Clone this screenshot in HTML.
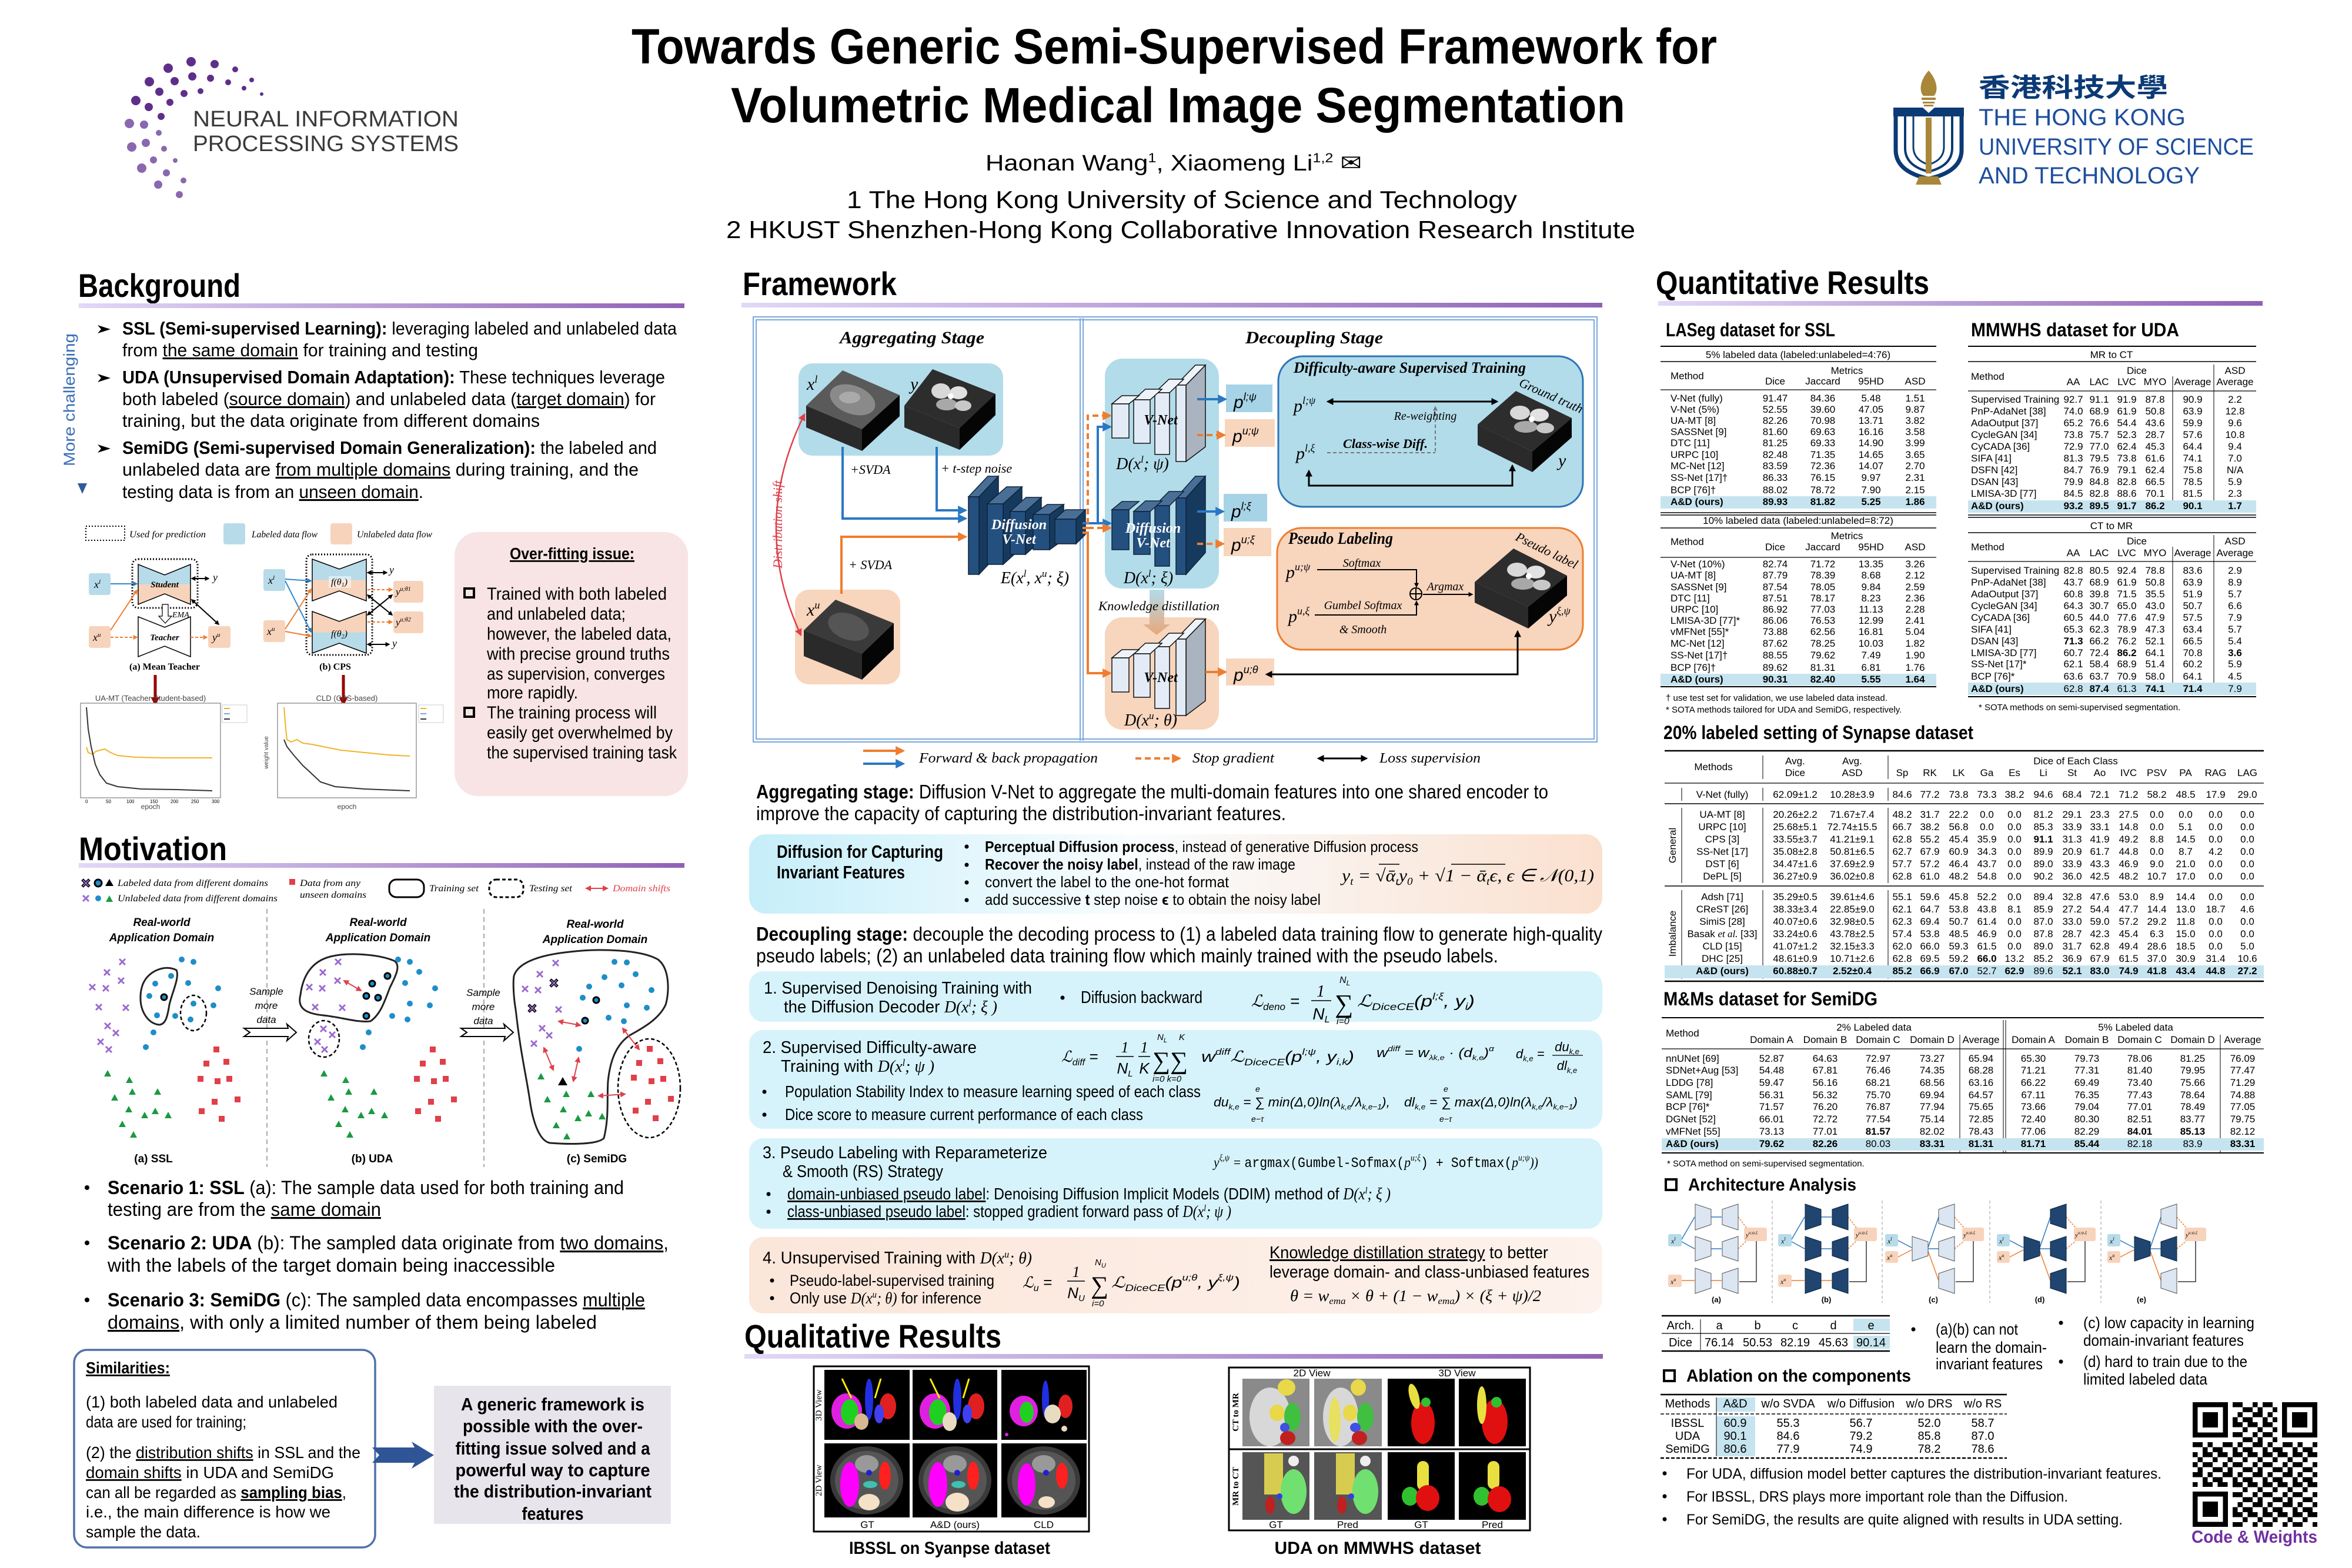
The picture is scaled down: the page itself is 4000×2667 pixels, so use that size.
<!DOCTYPE html>
<html><head><meta charset="utf-8"><style>
html,body{margin:0;padding:0;background:#fff;}
body{width:4000px;height:2667px;overflow:hidden;}
svg{display:block;}
text{font-family:"Liberation Sans",sans-serif;fill:#000;}
.sf{font-family:"Liberation Serif",serif;}
.it{font-family:"Liberation Serif",serif;font-style:italic;}
.b{font-weight:bold;}
</style></head><body>
<svg xmlns="http://www.w3.org/2000/svg" width="4000" height="2667" viewBox="0 0 4000 2667">
<defs>
<linearGradient id="ul" x1="0" x2="1" y1="0" y2="0"><stop offset="0" stop-color="#e2d8f7"/><stop offset="1" stop-color="#8f62b5"/></linearGradient>
<linearGradient id="mc" x1="0" x2="0" y1="0" y2="1"><stop offset="0" stop-color="#c9d9f0"/><stop offset="1" stop-color="#2f5b99"/></linearGradient>
<linearGradient id="dif" x1="0" x2="1" y1="0" y2="0"><stop offset="0" stop-color="#c6eef9"/><stop offset="0.45" stop-color="#f9fdff"/><stop offset="1" stop-color="#fbe0cf"/></linearGradient>
<linearGradient id="b4" x1="0" x2="1" y1="0" y2="0"><stop offset="0" stop-color="#fbe6da"/><stop offset="1" stop-color="#fdf2ec"/></linearGradient>
<linearGradient id="kd" x1="0" x2="0" y1="0" y2="1"><stop offset="0" stop-color="#b3dcea"/><stop offset="1" stop-color="#e9a77a"/></linearGradient>
<linearGradient id="hgBP" x1="0" x2="0" y1="0" y2="1"><stop offset="0.5" stop-color="#b7dbe9"/><stop offset="0.5" stop-color="#f8d3bb"/></linearGradient>
<linearGradient id="hgPB" x1="0" x2="0" y1="0" y2="1"><stop offset="0.5" stop-color="#f8d3bb"/><stop offset="0.5" stop-color="#b7dbe9"/></linearGradient>
<marker id="mB" viewBox="0 0 10 10" refX="8" refY="5" markerWidth="4" markerHeight="4" orient="auto-start-reverse"><path d="M0,0L10,5L0,10z" fill="#2a78c2"/></marker>
<marker id="mO" viewBox="0 0 10 10" refX="8" refY="5" markerWidth="4" markerHeight="4" orient="auto-start-reverse"><path d="M0,0L10,5L0,10z" fill="#ee7d2f"/></marker>
<marker id="mK" viewBox="0 0 10 10" refX="8" refY="5" markerWidth="4" markerHeight="4" orient="auto-start-reverse"><path d="M0,0L10,5L0,10z" fill="#000"/></marker>
<marker id="mR" viewBox="0 0 10 10" refX="8" refY="5" markerWidth="5" markerHeight="5" orient="auto-start-reverse"><path d="M0,0L10,5L0,10z" fill="#e0404a"/></marker>
<marker id="mD" viewBox="0 0 10 10" refX="8" refY="5" markerWidth="3" markerHeight="3" orient="auto-start-reverse"><path d="M0,0L10,5L0,10z" fill="#9a0000"/></marker>
<marker id="mG" viewBox="0 0 10 10" refX="8" refY="5" markerWidth="4" markerHeight="4" orient="auto-start-reverse"><path d="M0,0L10,5L0,10z" fill="#777"/></marker>
<g id="px"><path d="M-5,-5L5,5M-5,5L5,-5" stroke="#9b6ad0" stroke-width="3"/></g>
<g id="kx"><path d="M-6,-6L6,6M-6,6L6,-6" stroke="#000" stroke-width="5"/><path d="M-5,-5L5,5M-5,5L5,-5" stroke="#9b6ad0" stroke-width="2"/></g>
<circle id="bd" r="5" fill="#1e8ec8"/>
<circle id="bk" r="5" fill="#1e8ec8" stroke="#000" stroke-width="3"/>
<polygon id="gt" points="0,-6 6,5 -6,5" fill="#1a9a40"/>
<polygon id="kt" points="0,-8 8,6 -8,6" fill="#000"/>
<rect id="rs" x="-5" y="-5" width="10" height="10" fill="#e0404a"/>
<pattern id="qr" x="3729" y="2385" width="51" height="51" patternUnits="userSpaceOnUse">
<rect width="51" height="51" fill="#fff"/>
<g fill="#000"><rect x="0" y="0" width="8.5" height="8.5"/><rect x="17" y="0" width="17" height="8.5"/><rect x="8.5" y="8.5" width="8.5" height="8.5"/><rect x="34" y="8.5" width="17" height="8.5"/><rect x="0" y="17" width="17" height="8.5"/><rect x="25.5" y="17" width="8.5" height="8.5"/><rect x="17" y="25.5" width="8.5" height="8.5"/><rect x="34" y="25.5" width="17" height="8.5"/><rect x="0" y="34" width="8.5" height="8.5"/><rect x="17" y="34" width="17" height="8.5"/><rect x="42.5" y="34" width="8.5" height="8.5"/><rect x="8.5" y="42.5" width="8.5" height="8.5"/><rect x="34" y="42.5" width="8.5" height="8.5"/></g>
</pattern>
</defs>

<!-- ================= HEADER ================= -->
<text x="1074" y="108" font-size="84" class="b" textLength="1846" lengthAdjust="spacingAndGlyphs">Towards Generic Semi-Supervised Framework for</text>
<text x="1243" y="208" font-size="84" class="b" textLength="1521" lengthAdjust="spacingAndGlyphs">Volumetric Medical Image Segmentation</text>
<text x="1676" y="290" font-size="38" textLength="640" lengthAdjust="spacingAndGlyphs">Haonan Wang<tspan font-size="22" dy="-14">1</tspan><tspan dy="14">, Xiaomeng Li</tspan><tspan font-size="22" dy="-14">1,2</tspan><tspan dy="14"> ✉</tspan></text>
<text x="1440" y="354" font-size="42" textLength="1140" lengthAdjust="spacingAndGlyphs">1 The Hong Kong University of Science and Technology</text>
<text x="1235" y="405" font-size="42" textLength="1546" lengthAdjust="spacingAndGlyphs">2 HKUST Shenzhen-Hong Kong Collaborative Innovation Research Institute</text>

<!-- NeurIPS logo -->
<g fill="#5e2f8a">
<circle cx="365" cy="109" r="7"/><circle cx="325" cy="105" r="8"/><circle cx="286" cy="116" r="8"/><circle cx="254" cy="139" r="8"/><circle cx="231" cy="171" r="8"/>
<circle cx="358" cy="133" r="6"/><circle cx="327" cy="130" r="7"/><circle cx="297" cy="138" r="7"/><circle cx="271" cy="156" r="7"/><circle cx="253" cy="182" r="7"/>
<circle cx="341" cy="155" r="5"/><circle cx="313" cy="159" r="6"/><circle cx="289" cy="174" r="6"/><circle cx="274" cy="198" r="6"/>
<circle cx="400" cy="118" r="5"/><circle cx="428" cy="136" r="4"/><circle cx="445" cy="160" r="3"/><circle cx="415" cy="150" r="4"/><circle cx="388" cy="140" r="5"/>
</g>
<g fill="#8a68b0">
<circle cx="220" cy="210" r="8"/><circle cx="224" cy="250" r="8"/><circle cx="241" cy="286" r="8"/><circle cx="269" cy="314" r="7"/><circle cx="305" cy="331" r="6"/>
<circle cx="245" cy="212" r="7"/><circle cx="248" cy="243" r="7"/><circle cx="261" cy="272" r="6"/><circle cx="283" cy="294" r="6"/><circle cx="312" cy="307" r="5"/>
<circle cx="270" cy="226" r="5"/><circle cx="279" cy="253" r="5"/><circle cx="298" cy="273" r="4"/>
</g>
<text x="328" y="215" font-size="38" fill="#3a3a3a" textLength="452" lengthAdjust="spacingAndGlyphs" style="fill:#3a3a3a">NEURAL INFORMATION</text>
<text x="328" y="257" font-size="38" textLength="452" lengthAdjust="spacingAndGlyphs" style="fill:#3a3a3a">PROCESSING SYSTEMS</text>

<!-- HKUST logo -->
<path d="M3280,120 C3264,138 3264,156 3271,163 L3289,163 C3296,156 3296,138 3280,120Z" fill="#a8873a"/>
<rect x="3268" y="166" width="24" height="4" fill="#a8873a"/><rect x="3270" y="173" width="20" height="3" fill="#a8873a"/><rect x="3272" y="178" width="16" height="3" fill="#a8873a"/>
<path d="M3220,183 L3270,183 L3280,192 L3290,183 L3340,183 L3340,198 L3220,198Z" fill="#0b3a75"/>
<path d="M3224,198 L3224,255 Q3224,292 3280,304 Q3336,292 3336,255 L3336,198" fill="none" stroke="#0b3a75" stroke-width="7"/>
<path d="M3240,198 L3240,252 Q3240,282 3280,292 Q3320,282 3320,252 L3320,198" fill="none" stroke="#0b3a75" stroke-width="4"/>
<path d="M3254,198 L3254,250 Q3254,272 3280,280 Q3306,272 3306,250 L3306,198" fill="none" stroke="#0b3a75" stroke-width="3"/>
<rect x="3275" y="200" width="10" height="95" fill="#a8873a"/>
<path d="M3264,300 L3296,300 L3302,314 L3258,314Z" fill="#a8873a"/>
<text x="3365" y="164" font-size="44" class="b" textLength="322" lengthAdjust="spacingAndGlyphs" style="fill:#0b3a75;font-family:'Liberation Sans','Noto Sans CJK TC',sans-serif">香港科技大學</text>
<text x="3365" y="213" font-size="40" textLength="352" lengthAdjust="spacingAndGlyphs" style="fill:#1d4e9e">THE HONG KONG</text>
<text x="3365" y="263" font-size="40" textLength="468" lengthAdjust="spacingAndGlyphs" style="fill:#1d4e9e">UNIVERSITY OF SCIENCE</text>
<text x="3365" y="312" font-size="40" textLength="376" lengthAdjust="spacingAndGlyphs" style="fill:#1d4e9e">AND TECHNOLOGY</text>

<!-- ================= SECTION HEADERS ================= -->
<text x="133" y="505" font-size="56" class="b" textLength="276" lengthAdjust="spacingAndGlyphs">Background</text>
<rect x="134" y="516" width="1030" height="8" fill="url(#ul)"/>
<text x="134" y="1463" font-size="56" class="b" textLength="252" lengthAdjust="spacingAndGlyphs">Motivation</text>
<rect x="134" y="1468" width="1030" height="8" fill="url(#ul)"/>
<text x="1263" y="502" font-size="56" class="b" textLength="262" lengthAdjust="spacingAndGlyphs">Framework</text>
<rect x="1261" y="515" width="1464" height="8" fill="url(#ul)"/>
<text x="1266" y="2292" font-size="56" class="b" textLength="437" lengthAdjust="spacingAndGlyphs">Qualitative Results</text>
<rect x="1266" y="2303" width="1460" height="8" fill="url(#ul)"/>
<text x="2816" y="500" font-size="56" class="b" textLength="465" lengthAdjust="spacingAndGlyphs">Quantitative Results</text>
<rect x="2820" y="512" width="1028" height="8" fill="url(#ul)"/>

<!-- ================= BACKGROUND ================= -->
<line x1="140" y1="562" x2="140" y2="825" stroke="url(#mc)" stroke-width="5"/>
<path d="M132,822 L148,822 L140,840Z" fill="#2f5b99"/>
<text transform="translate(127,680) rotate(-90)" text-anchor="middle" font-size="27" textLength="226" lengthAdjust="spacingAndGlyphs" style="fill:#3b6fb6">More challenging</text>
<g fill="#000"><path d="M166,553 L188,560 L166,567 L172,560Z"/><path d="M166,636 L188,643 L166,650 L172,643Z"/><path d="M166,756 L188,763 L166,770 L172,763Z"/></g>
<g font-size="31">
<text x="208" y="569" textLength="943" lengthAdjust="spacingAndGlyphs"><tspan class="b">SSL (Semi-supervised Learning):</tspan> leveraging labeled and unlabeled data</text>
<text x="208" y="606" textLength="605" lengthAdjust="spacingAndGlyphs">from <tspan text-decoration="underline">the same domain</tspan> for training and testing</text>
<text x="208" y="652" textLength="923" lengthAdjust="spacingAndGlyphs"><tspan class="b">UDA (Unsupervised Domain Adaptation):</tspan> These techniques leverage</text>
<text x="208" y="689" textLength="907" lengthAdjust="spacingAndGlyphs">both labeled (<tspan text-decoration="underline">source domain</tspan>) and unlabeled data (<tspan text-decoration="underline">target domain</tspan>) for</text>
<text x="208" y="726" textLength="710" lengthAdjust="spacingAndGlyphs">training, but the data originate from different domains</text>
<text x="208" y="772" textLength="909" lengthAdjust="spacingAndGlyphs"><tspan class="b">SemiDG (Semi-supervised Domain Generalization):</tspan> the labeled and</text>
<text x="208" y="809" textLength="878" lengthAdjust="spacingAndGlyphs">unlabeled data are <tspan text-decoration="underline">from multiple domains</tspan> during training, and the</text>
<text x="208" y="847" textLength="512" lengthAdjust="spacingAndGlyphs">testing data is from an <tspan text-decoration="underline">unseen domain</tspan>.</text>
</g>

<!-- legend mini diagram -->
<rect x="146" y="895" width="66" height="24" fill="none" stroke="#000" stroke-width="2" stroke-dasharray="2,3"/>
<text x="220" y="914" class="it" font-size="16" textLength="130" lengthAdjust="spacingAndGlyphs">Used for prediction</text>
<rect x="380" y="890" width="37" height="36" rx="4" fill="#b7dbe9"/>
<text x="428" y="914" class="it" font-size="16" textLength="112" lengthAdjust="spacingAndGlyphs">Labeled data flow</text>
<rect x="562" y="890" width="37" height="36" rx="4" fill="#f8d3bb"/>
<text x="607" y="914" class="it" font-size="16" textLength="128" lengthAdjust="spacingAndGlyphs">Unlabeled data flow</text>

<!-- Mean Teacher -->
<rect x="225" y="951" width="111" height="83" rx="10" fill="none" stroke="#000" stroke-width="3" stroke-dasharray="2,3"/>
<polygon points="235,960 280,978 324,960 324,1028 280,1010 235,1028" fill="url(#hgBP)" stroke="#000" stroke-width="1.5"/>
<text x="280" y="999" class="it b" font-size="15" text-anchor="middle">Student</text>
<polygon points="235,1049 280,1067 324,1049 324,1117 280,1099 235,1117" fill="#fff" stroke="#000" stroke-width="1.5"/>
<text x="280" y="1089" class="it b" font-size="15" text-anchor="middle">Teacher</text>
<path d="M276,1028 L276,1048 L270,1048 L281,1060 L292,1048 L286,1048 L286,1028Z" fill="#fff" stroke="#000" stroke-width="1.2"/>
<text x="293" y="1050" class="it" font-size="14">EMA</text>
<rect x="151" y="975" width="37" height="37" rx="4" fill="#b7dbe9"/><text x="160" y="1000" class="it" font-size="18">x<tspan font-size="11" dy="-7">l</tspan></text>
<rect x="151" y="1065" width="37" height="37" rx="4" fill="#f8d3bb"/><text x="158" y="1090" class="it" font-size="18">x<tspan font-size="11" dy="-7">u</tspan></text>
<rect x="354" y="1065" width="38" height="37" rx="4" fill="#f8d3bb"/><text x="361" y="1090" class="it" font-size="18">y<tspan font-size="11" dy="-7">u</tspan></text>
<text x="362" y="988" class="it" font-size="18">y</text>
<line x1="188" y1="993" x2="233" y2="993" stroke="#2a8ad0" stroke-width="2" marker-end="url(#mB)"/>
<line x1="188" y1="1072" x2="233" y2="1004" stroke="#ee7d2f" stroke-width="2" marker-end="url(#mO)"/>
<line x1="188" y1="1084" x2="233" y2="1084" stroke="#ee7d2f" stroke-width="2" stroke-dasharray="5,3" marker-end="url(#mO)"/>
<line x1="324" y1="1084" x2="352" y2="1084" stroke="#ee7d2f" stroke-width="2" stroke-dasharray="5,3" marker-end="url(#mO)"/>
<line x1="326" y1="984" x2="355" y2="984" stroke="#000" stroke-width="2" marker-start="url(#mK)" marker-end="url(#mK)"/>
<line x1="326" y1="1020" x2="372" y2="1062" stroke="#000" stroke-width="2" marker-start="url(#mK)" marker-end="url(#mK)"/>
<text x="280" y="1139" class="sf b" font-size="16" text-anchor="middle">(a) Mean Teacher</text>

<!-- CPS -->
<rect x="521" y="943" width="112" height="171" rx="10" fill="none" stroke="#000" stroke-width="3" stroke-dasharray="2,3"/>
<polygon points="531,951 577,968 623,951 623,1022 577,1005 531,1022" fill="url(#hgBP)" stroke="#000" stroke-width="1.5"/>
<polygon points="531,1040 577,1057 623,1040 623,1111 577,1094 531,1111" fill="url(#hgPB)" stroke="#000" stroke-width="1.5"/>
<rect x="559" y="980" width="38" height="20" fill="#fff" opacity="0.5"/>
<text x="577" y="995" class="it" font-size="16" text-anchor="middle">f(θ<tspan font-size="10" dy="3">1</tspan><tspan dy="-3">)</tspan></text>
<text x="577" y="1083" class="it" font-size="16" text-anchor="middle">f(θ<tspan font-size="10" dy="3">2</tspan><tspan dy="-3">)</tspan></text>
<rect x="448" y="968" width="37" height="37" rx="4" fill="#b7dbe9"/><text x="456" y="993" class="it" font-size="18">x<tspan font-size="11" dy="-7">l</tspan></text>
<rect x="448" y="1055" width="37" height="37" rx="4" fill="#f8d3bb"/><text x="454" y="1080" class="it" font-size="18">x<tspan font-size="11" dy="-7">u</tspan></text>
<rect x="669" y="988" width="51" height="37" rx="4" fill="#f8d3bb"/><text x="673" y="1012" class="it" font-size="17">y<tspan font-size="10" dy="-7">u;θ1</tspan></text>
<rect x="669" y="1040" width="51" height="37" rx="4" fill="#f8d3bb"/><text x="673" y="1064" class="it" font-size="17">y<tspan font-size="10" dy="-7">u;θ2</tspan></text>
<text x="662" y="975" class="it" font-size="18">y</text><text x="667" y="1100" class="it" font-size="18">y</text>
<line x1="485" y1="985" x2="529" y2="988" stroke="#2a8ad0" stroke-width="2" marker-end="url(#mB)"/>
<line x1="485" y1="988" x2="529" y2="1075" stroke="#2a8ad0" stroke-width="2" marker-end="url(#mB)"/>
<line x1="485" y1="1070" x2="529" y2="1002" stroke="#ee7d2f" stroke-width="2" marker-end="url(#mO)"/>
<line x1="485" y1="1074" x2="529" y2="1082" stroke="#ee7d2f" stroke-width="2" marker-end="url(#mO)"/>
<line x1="625" y1="1003" x2="667" y2="1003" stroke="#ee7d2f" stroke-width="2" stroke-dasharray="5,3" marker-end="url(#mO)"/>
<line x1="625" y1="1058" x2="667" y2="1058" stroke="#ee7d2f" stroke-width="2" stroke-dasharray="5,3" marker-end="url(#mO)"/>
<line x1="625" y1="1012" x2="667" y2="1046" stroke="#000" stroke-width="2" marker-start="url(#mK)" marker-end="url(#mK)"/>
<line x1="625" y1="1046" x2="667" y2="1012" stroke="#000" stroke-width="2" marker-start="url(#mK)" marker-end="url(#mK)"/>
<line x1="625" y1="974" x2="658" y2="974" stroke="#000" stroke-width="2" marker-start="url(#mK)" marker-end="url(#mK)"/>
<line x1="625" y1="1096" x2="662" y2="1096" stroke="#000" stroke-width="2" marker-start="url(#mK)" marker-end="url(#mK)"/>
<text x="570" y="1139" class="sf b" font-size="16" text-anchor="middle">(b) CPS</text>

<!-- charts -->
<line x1="264" y1="1148" x2="264" y2="1198" stroke="#9a0000" stroke-width="5" marker-end="url(#mD)"/>
<line x1="584" y1="1148" x2="584" y2="1198" stroke="#9a0000" stroke-width="5" marker-end="url(#mD)"/>
<text x="256" y="1192" font-size="13" text-anchor="middle" style="fill:#444">UA-MT (Teacher-Student-based)</text>
<rect x="137" y="1196" width="238" height="161" fill="#fff" stroke="#999" stroke-width="1.5"/>
<rect x="378" y="1199" width="42" height="30" fill="#fff" stroke="#ccc"/>
<line x1="381" y1="1205" x2="391" y2="1205" stroke="#f0b429" stroke-width="2"/><line x1="381" y1="1214" x2="391" y2="1214" stroke="#7aa6e0" stroke-width="2"/><line x1="381" y1="1223" x2="391" y2="1223" stroke="#333" stroke-width="2"/>
<polyline points="147,1271 150,1280 157,1283 163,1278 170,1276 178,1274 188,1280 200,1285 230,1288 280,1289 361,1289" fill="none" stroke="#f0b429" stroke-width="2"/>
<polyline points="147,1203 150,1240 155,1270 162,1300 170,1318 181,1332 200,1338 240,1342 300,1343 361,1345" fill="none" stroke="#333" stroke-width="2"/>
<text x="256" y="1376" font-size="12" text-anchor="middle" style="fill:#444">epoch</text>
<g font-size="8" style="fill:#555"><text x="145" y="1366">0</text><text x="180" y="1366">50</text><text x="215" y="1366">100</text><text x="255" y="1366">150</text><text x="290" y="1366">200</text><text x="325" y="1366">250</text><text x="360" y="1366">300</text></g>
<text x="590" y="1192" font-size="13" text-anchor="middle" style="fill:#444">CLD (CPS-based)</text>
<rect x="472" y="1196" width="236" height="161" fill="#fff" stroke="#999" stroke-width="1.5"/>
<rect x="712" y="1199" width="42" height="30" fill="#fff" stroke="#ccc"/>
<line x1="715" y1="1205" x2="725" y2="1205" stroke="#f0b429" stroke-width="2"/><line x1="715" y1="1214" x2="725" y2="1214" stroke="#7aa6e0" stroke-width="2"/><line x1="715" y1="1223" x2="725" y2="1223" stroke="#333" stroke-width="2"/>
<polyline points="483,1203 486,1240 488,1258 495,1262 505,1258 515,1264 530,1266 550,1270 580,1276 620,1280 660,1284 697,1286" fill="none" stroke="#f0b429" stroke-width="2"/>
<polyline points="483,1258 488,1270 500,1285 515,1302 528,1314 545,1330 570,1338 620,1342 697,1345" fill="none" stroke="#333" stroke-width="2"/>
<text transform="translate(456,1280) rotate(-90)" font-size="10" text-anchor="middle" style="fill:#444">weight value</text>
<text x="590" y="1376" font-size="12" text-anchor="middle" style="fill:#444">epoch</text>

<!-- over-fitting box -->
<rect x="773" y="905" width="397" height="449" rx="40" fill="#f8e4e4"/>
<text x="973" y="951" font-size="28" class="b" text-anchor="middle" text-decoration="underline" textLength="212" lengthAdjust="spacingAndGlyphs">Over-fitting issue:</text>
<rect x="790" y="1001" width="16" height="15" fill="none" stroke="#000" stroke-width="4"/>
<rect x="790" y="1204" width="16" height="15" fill="none" stroke="#000" stroke-width="4"/>
<g font-size="30">
<text x="828" y="1020" textLength="306" lengthAdjust="spacingAndGlyphs">Trained with both labeled</text>
<text x="828" y="1054" textLength="236" lengthAdjust="spacingAndGlyphs">and unlabeled data;</text>
<text x="828" y="1088" textLength="314" lengthAdjust="spacingAndGlyphs">however, the labeled data,</text>
<text x="828" y="1122" textLength="311" lengthAdjust="spacingAndGlyphs">with precise ground truths</text>
<text x="828" y="1156" textLength="303" lengthAdjust="spacingAndGlyphs">as supervision, converges</text>
<text x="828" y="1188" textLength="155" lengthAdjust="spacingAndGlyphs">more rapidly.</text>
<text x="828" y="1222" textLength="289" lengthAdjust="spacingAndGlyphs">The training process will</text>
<text x="828" y="1256" textLength="316" lengthAdjust="spacingAndGlyphs">easily get overwhelmed by</text>
<text x="828" y="1290" textLength="323" lengthAdjust="spacingAndGlyphs">the supervised training task</text>
</g>

<!-- ================= MOTIVATION ================= -->
<use href="#kx" x="146" y="1502"/><circle cx="167" cy="1502" r="6" fill="#1e8ec8" stroke="#000" stroke-width="3"/><polygon points="186,1495 193,1507 179,1507" fill="#000"/>
<use href="#px" x="146" y="1528"/><use href="#bd" x="167" y="1528"/><use href="#gt" x="186" y="1529"/>
<text x="200" y="1507" class="it" font-size="16" textLength="256" lengthAdjust="spacingAndGlyphs">Labeled data from different domains</text>
<text x="200" y="1533" class="it" font-size="16" textLength="272" lengthAdjust="spacingAndGlyphs">Unlabeled data from different domains</text>
<use href="#rs" x="497" y="1500"/>
<text x="510" y="1507" class="it" font-size="16" textLength="103" lengthAdjust="spacingAndGlyphs">Data from any</text>
<text x="510" y="1527" class="it" font-size="16" textLength="113" lengthAdjust="spacingAndGlyphs">unseen domains</text>
<rect x="662" y="1496" width="59" height="30" rx="12" fill="none" stroke="#000" stroke-width="3"/>
<text x="730" y="1516" class="it" font-size="16" textLength="84" lengthAdjust="spacingAndGlyphs">Training set</text>
<rect x="832" y="1496" width="58" height="30" rx="12" fill="none" stroke="#000" stroke-width="3" stroke-dasharray="6,4"/>
<text x="900" y="1516" class="it" font-size="16" textLength="73" lengthAdjust="spacingAndGlyphs">Testing set</text>
<line x1="997" y1="1511" x2="1033" y2="1511" stroke="#e0404a" stroke-width="2" marker-start="url(#mR)" marker-end="url(#mR)"/>
<text x="1042" y="1516" class="it" font-size="16" textLength="98" lengthAdjust="spacingAndGlyphs" style="fill:#e0404a">Domain shifts</text>
<line x1="454" y1="1546" x2="454" y2="1985" stroke="#aaa" stroke-width="2" stroke-dasharray="8,6"/>
<line x1="823" y1="1546" x2="823" y2="1985" stroke="#aaa" stroke-width="2" stroke-dasharray="8,6"/>
<g class="it b" font-size="19" text-anchor="middle">
<text x="275" y="1575">Real-world</text><text x="275" y="1601">Application Domain</text>
<text x="643" y="1575">Real-world</text><text x="643" y="1601">Application Domain</text>
<text x="1012" y="1578">Real-world</text><text x="1012" y="1604">Application Domain</text>
</g>
<g class="sf b" font-size="19" text-anchor="middle"><text x="261" y="1977">(a) SSL</text><text x="633" y="1977">(b) UDA</text><text x="1015" y="1977">(c) SemiDG</text></g>
<g class="it" font-size="17" text-anchor="middle"><text x="453" y="1692">Sample</text><text x="453" y="1716">more</text><text x="453" y="1740">data</text><text x="822" y="1694">Sample</text><text x="822" y="1718">more</text><text x="822" y="1742">data</text></g>
<path d="M415,1749 L490,1749 L488,1742 L504,1756 L488,1770 L490,1763 L415,1763 L425,1756Z" fill="#fff" stroke="#000" stroke-width="2"/>
<path d="M784,1749 L859,1749 L857,1742 L873,1756 L857,1770 L859,1763 L784,1763 L794,1756Z" fill="#fff" stroke="#000" stroke-width="2"/>
<!-- panel a -->
<path d="M246,1668 C255,1652 280,1640 300,1650 C306,1662 292,1690 288,1709 C285,1728 282,1743 270,1743 C250,1740 238,1718 239,1695 C239,1685 242,1674 246,1668Z" fill="none" stroke="#222" stroke-width="3"/>
<ellipse cx="329" cy="1723" rx="22" ry="30" fill="none" stroke="#000" stroke-width="2.5" stroke-dasharray="6,4"/>
<g><use href="#px" x="208" y="1636"/><use href="#px" x="182" y="1654"/><use href="#px" x="206" y="1668"/><use href="#px" x="157" y="1679"/><use href="#px" x="180" y="1681"/><use href="#px" x="168" y="1713"/><use href="#px" x="214" y="1714"/><use href="#px" x="183" y="1745"/><use href="#px" x="197" y="1757"/><use href="#px" x="171" y="1772"/><use href="#px" x="185" y="1785"/>
<use href="#bd" x="309" y="1632"/><use href="#bd" x="329" y="1636"/><use href="#bd" x="264" y="1673"/><use href="#bd" x="291" y="1660"/><use href="#bd" x="320" y="1672"/><use href="#bd" x="371" y="1681"/><use href="#bd" x="254" y="1694"/><use href="#bk" x="279" y="1696"/><use href="#bd" x="329" y="1707"/><use href="#bd" x="363" y="1710"/><use href="#bd" x="267" y="1727"/><use href="#bd" x="298" y="1728"/><use href="#bd" x="324" y="1734"/><use href="#bd" x="261" y="1756"/><use href="#bd" x="248" y="1781"/>
<use href="#gt" x="183" y="1826"/><use href="#gt" x="220" y="1837"/><use href="#gt" x="195" y="1867"/><use href="#gt" x="225" y="1857"/><use href="#gt" x="268" y="1857"/><use href="#gt" x="219" y="1887"/><use href="#gt" x="246" y="1897"/><use href="#gt" x="264" y="1890"/><use href="#gt" x="286" y="1897"/><use href="#gt" x="208" y="1912"/><use href="#gt" x="227" y="1930"/>
<use href="#rs" x="368" y="1785"/><use href="#rs" x="351" y="1809"/><use href="#rs" x="385" y="1806"/><use href="#rs" x="341" y="1835"/><use href="#rs" x="370" y="1839"/><use href="#rs" x="390" y="1835"/><use href="#rs" x="404" y="1870"/><use href="#rs" x="365" y="1874"/><use href="#rs" x="343" y="1890"/><use href="#rs" x="377" y="1903"/></g>
<!-- panel b -->
<path d="M511,1692 C515,1660 530,1635 562,1627 C590,1620 640,1622 670,1634 C684,1642 670,1665 663,1680 C655,1700 648,1725 630,1737 C610,1740 580,1730 550,1727 C520,1724 505,1715 511,1692Z" fill="none" stroke="#222" stroke-width="3"/>
<ellipse cx="551" cy="1767" rx="26" ry="31" fill="none" stroke="#000" stroke-width="2.5" stroke-dasharray="6,4"/>
<line x1="585" y1="1668" x2="614" y2="1685" stroke="#e0404a" stroke-width="2" marker-start="url(#mR)" marker-end="url(#mR)"/>
<g><use href="#px" x="575" y="1636"/><use href="#px" x="549" y="1654"/><use href="#px" x="574" y="1668"/><use href="#px" x="526" y="1679"/><use href="#px" x="548" y="1681"/><use href="#px" x="536" y="1713"/><use href="#px" x="582" y="1714"/><use href="#px" x="550" y="1750"/><use href="#px" x="565" y="1760"/><use href="#px" x="540" y="1772"/><use href="#px" x="552" y="1785"/>
<use href="#bd" x="677" y="1632"/><use href="#bd" x="697" y="1636"/><use href="#bk" x="633" y="1673"/><use href="#bk" x="659" y="1660"/><use href="#bd" x="689" y="1672"/><use href="#bd" x="713" y="1653"/><use href="#bd" x="740" y="1681"/><use href="#bk" x="623" y="1694"/><use href="#bk" x="643" y="1697"/><use href="#bd" x="697" y="1707"/><use href="#bd" x="731" y="1710"/><use href="#bk" x="623" y="1728"/><use href="#bd" x="667" y="1728"/><use href="#bd" x="693" y="1734"/><use href="#bd" x="627" y="1756"/><use href="#bd" x="617" y="1781"/>
<use href="#gt" x="551" y="1826"/><use href="#gt" x="588" y="1837"/><use href="#gt" x="563" y="1867"/><use href="#gt" x="593" y="1857"/><use href="#gt" x="636" y="1857"/><use href="#gt" x="587" y="1887"/><use href="#gt" x="614" y="1897"/><use href="#gt" x="632" y="1890"/><use href="#gt" x="654" y="1897"/><use href="#gt" x="576" y="1912"/><use href="#gt" x="595" y="1930"/>
<use href="#rs" x="736" y="1785"/><use href="#rs" x="719" y="1809"/><use href="#rs" x="753" y="1806"/><use href="#rs" x="709" y="1835"/><use href="#rs" x="738" y="1839"/><use href="#rs" x="758" y="1835"/><use href="#rs" x="772" y="1870"/><use href="#rs" x="733" y="1874"/><use href="#rs" x="711" y="1890"/><use href="#rs" x="745" y="1903"/></g>
<!-- panel c -->
<path d="M874,1660 C880,1640 910,1625 969,1619 C1020,1613 1090,1615 1119,1632 C1140,1648 1138,1690 1132,1709 C1120,1735 1090,1750 1071,1761 C1050,1775 1038,1800 1034,1839 C1032,1870 1036,1900 1027,1936 C1015,1948 960,1946 935,1944 C915,1940 905,1900 901,1871 C895,1830 885,1790 877,1717 C874,1700 872,1675 874,1660Z" fill="none" stroke="#222" stroke-width="3"/>
<ellipse cx="1104" cy="1851" rx="53" ry="84" fill="none" stroke="#000" stroke-width="2.5" stroke-dasharray="6,4"/>
<g><use href="#px" x="945" y="1638"/><use href="#px" x="918" y="1657"/><use href="#px" x="893" y="1682"/><use href="#px" x="915" y="1684"/><use href="#px" x="950" y="1717"/><use href="#px" x="922" y="1749"/><use href="#px" x="934" y="1761"/><use href="#px" x="908" y="1775"/><use href="#kx" x="942" y="1672"/><use href="#kx" x="905" y="1715"/>
<use href="#bd" x="1045" y="1636"/><use href="#bd" x="1066" y="1637"/><use href="#bd" x="1081" y="1657"/><use href="#bd" x="1028" y="1662"/><use href="#bd" x="1002" y="1678"/><use href="#bd" x="1057" y="1676"/><use href="#bd" x="1108" y="1684"/><use href="#bd" x="991" y="1697"/><use href="#bk" x="1014" y="1701"/><use href="#bd" x="1066" y="1710"/><use href="#bd" x="1100" y="1714"/><use href="#bd" x="1035" y="1731"/><use href="#bk" x="995" y="1736"/><use href="#bd" x="1061" y="1737"/><use href="#bd" x="985" y="1784"/>
<use href="#gt" x="920" y="1831"/><use href="#kt" x="957" y="1840"/><use href="#gt" x="931" y="1870"/><use href="#gt" x="963" y="1861"/><use href="#gt" x="1005" y="1861"/><use href="#gt" x="958" y="1887"/><use href="#gt" x="983" y="1902"/><use href="#gt" x="1001" y="1894"/><use href="#gt" x="1024" y="1899"/><use href="#gt" x="946" y="1914"/><use href="#gt" x="964" y="1933"/>
<use href="#rs" x="1105" y="1784"/><use href="#rs" x="1087" y="1808"/><use href="#rs" x="1123" y="1805"/><use href="#rs" x="1078" y="1833"/><use href="#rs" x="1108" y="1839"/><use href="#rs" x="1128" y="1835"/><use href="#rs" x="1141" y="1869"/><use href="#rs" x="1102" y="1874"/><use href="#rs" x="1081" y="1889"/><use href="#rs" x="1115" y="1902"/></g>
<g stroke="#e0404a" stroke-width="2"><line x1="950" y1="1737" x2="987" y2="1744" marker-start="url(#mR)" marker-end="url(#mR)"/><line x1="925" y1="1782" x2="941" y2="1820" marker-start="url(#mR)" marker-end="url(#mR)"/><line x1="975" y1="1839" x2="984" y2="1799" marker-start="url(#mR)" marker-end="url(#mR)"/><line x1="1018" y1="1864" x2="1063" y2="1861" marker-start="url(#mR)" marker-end="url(#mR)"/><line x1="1059" y1="1749" x2="1087" y2="1785" marker-start="url(#mR)" marker-end="url(#mR)"/></g>

<!-- scenarios -->
<g font-size="32">
<circle cx="148" cy="2020" r="4" fill="#000"/><circle cx="148" cy="2114" r="4" fill="#000"/><circle cx="148" cy="2211" r="4" fill="#000"/>
<text x="183" y="2031" textLength="878" lengthAdjust="spacingAndGlyphs"><tspan class="b">Scenario 1: SSL</tspan> (a): The sample data used for both training and</text>
<text x="183" y="2068" textLength="465" lengthAdjust="spacingAndGlyphs">testing are from the <tspan text-decoration="underline">same domain</tspan></text>
<text x="183" y="2125" textLength="954" lengthAdjust="spacingAndGlyphs"><tspan class="b">Scenario 2: UDA</tspan> (b): The sampled data originate from <tspan text-decoration="underline">two domains</tspan>,</text>
<text x="183" y="2163" textLength="761" lengthAdjust="spacingAndGlyphs">with the labels of the target domain being inaccessible</text>
<text x="183" y="2222" textLength="914" lengthAdjust="spacingAndGlyphs"><tspan class="b">Scenario 3: SemiDG</tspan> (c): The sampled data encompasses <tspan text-decoration="underline">multiple</tspan></text>
<text x="183" y="2260" textLength="832" lengthAdjust="spacingAndGlyphs"><tspan text-decoration="underline">domains</tspan>, with only a limited number of them being labeled</text>
</g>

<!-- similarities -->
<rect x="126" y="2296" width="512" height="336" rx="22" fill="#fff" stroke="#4f72a8" stroke-width="3.5"/>
<text x="146" y="2336" font-size="28" class="b" text-decoration="underline" textLength="143" lengthAdjust="spacingAndGlyphs">Similarities:</text>
<g font-size="28">
<text x="146" y="2394" textLength="428" lengthAdjust="spacingAndGlyphs">(1) both labeled data and unlabeled</text>
<text x="146" y="2428" textLength="273" lengthAdjust="spacingAndGlyphs">data are used for training;</text>
<text x="146" y="2480" textLength="467" lengthAdjust="spacingAndGlyphs">(2) the <tspan text-decoration="underline">distribution shifts</tspan> in SSL and the</text>
<text x="146" y="2514" textLength="422" lengthAdjust="spacingAndGlyphs"><tspan text-decoration="underline">domain shifts</tspan> in UDA and SemiDG</text>
<text x="146" y="2548" textLength="443" lengthAdjust="spacingAndGlyphs">can all be regarded as <tspan class="b" text-decoration="underline">sampling bias</tspan>,</text>
<text x="146" y="2581" textLength="416" lengthAdjust="spacingAndGlyphs">i.e., the main difference is how we</text>
<text x="146" y="2615" textLength="195" lengthAdjust="spacingAndGlyphs">sample the data.</text>
</g>
<path d="M633,2462 L705,2462 L700,2452 L738,2475 L700,2498 L705,2488 L633,2488 L645,2475Z" fill="#2f5597"/>
<rect x="738" y="2357" width="403" height="235" fill="#e8e4ec"/>
<g font-size="31" class="b" text-anchor="middle">
<text x="940" y="2399" textLength="312" lengthAdjust="spacingAndGlyphs">A generic framework is</text>
<text x="940" y="2436" textLength="306" lengthAdjust="spacingAndGlyphs">possible with the over-</text>
<text x="940" y="2474" textLength="331" lengthAdjust="spacingAndGlyphs">fitting issue solved and a</text>
<text x="940" y="2511" textLength="331" lengthAdjust="spacingAndGlyphs">powerful way to capture</text>
<text x="940" y="2547" textLength="336" lengthAdjust="spacingAndGlyphs">the distribution-invariant</text>
<text x="940" y="2585" textLength="105" lengthAdjust="spacingAndGlyphs">features</text>
</g>

<!-- ================= FRAMEWORK DIAGRAM ================= -->
<rect x="1281" y="539" width="1435" height="723" fill="none" stroke="#7aa8db" stroke-width="2"/>
<rect x="1286" y="544" width="1425" height="713" fill="none" stroke="#7aa8db" stroke-width="2"/>
<line x1="1837" y1="541" x2="1837" y2="1260" stroke="#7aa8db" stroke-width="2"/>
<line x1="1842" y1="541" x2="1842" y2="1260" stroke="#7aa8db" stroke-width="2"/>
<text x="1428" y="584" class="it b" font-size="30" textLength="246" lengthAdjust="spacingAndGlyphs">Aggregating Stage</text>
<text x="2118" y="584" class="it b" font-size="30" textLength="234" lengthAdjust="spacingAndGlyphs">Decoupling Stage</text>

<rect x="1358" y="618" width="348" height="157" rx="24" fill="#b3dcea"/>
<rect x="1352" y="1003" width="179" height="161" rx="24" fill="#f8d5bd"/>
<!-- cube xl -->
<polygon points="1433,630 1530,672 1466,730 1371,690" fill="#5a5a5a"/>
<ellipse cx="1450" cy="680" rx="40" ry="24" fill="#8a8a8a" transform="rotate(20 1450 680)"/>
<ellipse cx="1445" cy="676" rx="18" ry="10" fill="#aaa"/>
<polygon points="1371,690 1466,730 1466,767 1371,727" fill="#2a2a2a"/>
<polygon points="1466,730 1530,672 1530,708 1466,767" fill="#050505"/>
<!-- cube y -->
<polygon points="1586,628 1693,670 1632,728 1538,690" fill="#2d2d2d"/>
<ellipse cx="1600" cy="665" rx="16" ry="13" fill="#d8d8d8"/><ellipse cx="1630" cy="668" rx="15" ry="11" fill="#e0e0e0"/><ellipse cx="1610" cy="688" rx="18" ry="10" fill="#a8a8a8"/><ellipse cx="1638" cy="690" rx="14" ry="9" fill="#c8c8c8"/><circle cx="1617" cy="674" r="5" fill="#fff"/>
<polygon points="1538,690 1632,728 1632,765 1538,727" fill="#2a2a2a"/>
<polygon points="1632,728 1693,670 1693,706 1632,765" fill="#050505"/>
<!-- cube xu -->
<polygon points="1421,1020 1520,1060 1466,1112 1367,1072" fill="#3a3a3a"/>
<ellipse cx="1443" cy="1066" rx="36" ry="22" fill="#555" transform="rotate(20 1443 1066)"/>
<polygon points="1367,1072 1466,1112 1466,1156 1367,1116" fill="#2a2a2a"/>
<polygon points="1466,1112 1520,1060 1520,1104 1466,1156" fill="#050505"/>
<text x="1372" y="663" class="it" font-size="30">x<tspan font-size="18" dy="-12">l</tspan></text>
<text x="1548" y="663" class="it" font-size="30">y</text>
<text x="1372" y="1047" class="it" font-size="30">x<tspan font-size="18" dy="-12">u</tspan></text>
<path d="M1368,705 Q1275,893 1362,1080" fill="none" stroke="#e0404a" stroke-width="2.5" marker-start="url(#mR)" marker-end="url(#mR)"/>
<text transform="translate(1330,892) rotate(-90)" class="it" font-size="22" text-anchor="middle" textLength="150" lengthAdjust="spacingAndGlyphs" style="fill:#d8404a">Distribution shift</text>
<text x="1446" y="806" class="it" font-size="22">+SVDA</text>
<text x="1600" y="804" class="it" font-size="22">+ t-step noise</text>
<text x="1443" y="968" class="it" font-size="22">+ SVDA</text>
<polyline points="1433,760 1433,882 1642,882" fill="none" stroke="#2a78c2" stroke-width="4" marker-end="url(#mB)"/>
<polyline points="1593,760 1593,868 1642,868" fill="none" stroke="#2a78c2" stroke-width="4" marker-end="url(#mB)"/>
<polyline points="1431,1010 1431,913 1642,913" fill="none" stroke="#ee7d2f" stroke-width="4" marker-end="url(#mO)"/>

<!-- encoder (navy) -->
<g stroke="#0d223a" stroke-width="1.5">
<polygon points="1647,845 1680,810 1698,810 1665,845" fill="#4a6f96"/><polygon points="1665,845 1698,810 1698,942 1665,977" fill="#163a5e"/><rect x="1647" y="845" width="18" height="132" fill="#24507f"/>
<polygon points="1679,857 1712,828 1738,828 1706,857" fill="#4a6f96"/><polygon points="1706,857 1738,828 1738,931 1706,960" fill="#163a5e"/><rect x="1679" y="857" width="27" height="103" fill="#24507f"/>
<polygon points="1718,870 1745,846 1771,846 1744,870" fill="#4a6f96"/><polygon points="1744,870 1771,846 1771,919 1744,943" fill="#163a5e"/><rect x="1718" y="870" width="26" height="73" fill="#24507f"/>
<polygon points="1757,875 1781,858 1809,858 1785,875" fill="#4a6f96"/><polygon points="1785,875 1809,858 1809,918 1785,935" fill="#163a5e"/><rect x="1757" y="875" width="28" height="60" fill="#24507f"/>
<polygon points="1794,883 1812,867 1846,867 1830,883" fill="#4a6f96"/><polygon points="1830,883 1846,867 1846,909 1830,925" fill="#163a5e"/><rect x="1794" y="883" width="36" height="42" fill="#24507f"/>
</g>
<text x="1733" y="900" class="it b" font-size="24" text-anchor="middle" style="fill:#fff">Diffusion</text>
<text x="1733" y="925" class="it b" font-size="24" text-anchor="middle" style="fill:#fff">V-Net</text>
<text x="1760" y="992" class="it" font-size="28" text-anchor="middle">E(x<tspan font-size="17" dy="-11">l</tspan><tspan dy="11">, x</tspan><tspan font-size="17" dy="-11">u</tspan><tspan dy="11">; ξ)</tspan></text>

<!-- decoder regions -->
<rect x="1879" y="610" width="194" height="391" rx="30" fill="#b3dcea"/>
<rect x="1879" y="1050" width="194" height="191" rx="30" fill="#f8d5bd"/>
<polygon points="1955,1003 1980,1003 1980,1062 1990,1062 1967,1080 1944,1062 1955,1062" fill="url(#kd)"/>
<!-- top V-Net -->
<g stroke="#111" stroke-width="1.5">
<polygon points="2017,655 2050,621 2050,760 2017,785" fill="#aab4c0"/>
<polygon points="2000,655 2033,621 2050,621 2017,655" fill="#eef3fa"/><rect x="2000" y="655" width="17" height="130" fill="#e3ecf6"/>
<polygon points="1964,668 1988,645 2013,645 1989,668" fill="#eef3fa"/><rect x="1964" y="668" width="25" height="105" fill="#e3ecf6"/>
<polygon points="1928,680 1948,662 1976,662 1956,680" fill="#eef3fa"/><rect x="1928" y="680" width="28" height="74" fill="#e3ecf6"/>
<polygon points="1891,687 1908,673 1937,673 1920,687" fill="#eef3fa"/><rect x="1891" y="687" width="29" height="58" fill="#e3ecf6"/>
</g>
<text x="1974" y="722" class="it b" font-size="24" text-anchor="middle">V-Net</text>
<text x="1943" y="798" class="it" font-size="28" text-anchor="middle">D(x<tspan font-size="17" dy="-11">l</tspan><tspan dy="11">; ψ)</tspan></text>
<!-- diffusion decoder -->
<g stroke="#0d223a" stroke-width="1.5">
<polygon points="2017,847 2050,810 2050,940 2017,977" fill="#163a5e"/>
<polygon points="2000,847 2033,810 2050,810 2017,847" fill="#4a6f96"/><rect x="2000" y="847" width="17" height="130" fill="#24507f"/>
<polygon points="1964,860 1988,836 2013,836 1989,860" fill="#4a6f96"/><rect x="1964" y="860" width="25" height="103" fill="#24507f"/>
<polygon points="1928,870 1948,852 1976,852 1956,870" fill="#4a6f96"/><rect x="1928" y="870" width="28" height="73" fill="#24507f"/>
<polygon points="1891,867 1908,853 1937,853 1920,867" fill="#4a6f96"/><rect x="1891" y="867" width="29" height="68" fill="#24507f"/>
</g>
<text x="1961" y="906" class="it b" font-size="24" text-anchor="middle" style="fill:#fff">Diffusion</text>
<text x="1961" y="931" class="it b" font-size="24" text-anchor="middle" style="fill:#fff">V-Net</text>
<text x="1953" y="992" class="it" font-size="28" text-anchor="middle">D(x<tspan font-size="17" dy="-11">l</tspan><tspan dy="11">; ξ)</tspan></text>
<text x="1971" y="1038" class="it" font-size="22" text-anchor="middle" textLength="206" lengthAdjust="spacingAndGlyphs">Knowledge distillation</text>
<!-- bottom V-Net -->
<g stroke="#111" stroke-width="1.5">
<polygon points="2017,1087 2050,1053 2050,1192 2017,1217" fill="#aab4c0"/>
<polygon points="2000,1087 2033,1053 2050,1053 2017,1087" fill="#eef3fa"/><rect x="2000" y="1087" width="17" height="130" fill="#e3ecf6"/>
<polygon points="1964,1100 1988,1077 2013,1077 1989,1100" fill="#eef3fa"/><rect x="1964" y="1100" width="25" height="105" fill="#e3ecf6"/>
<polygon points="1928,1112 1948,1094 1976,1094 1956,1112" fill="#eef3fa"/><rect x="1928" y="1112" width="28" height="74" fill="#e3ecf6"/>
<polygon points="1891,1119 1908,1105 1937,1105 1920,1119" fill="#eef3fa"/><rect x="1891" y="1119" width="29" height="58" fill="#e3ecf6"/>
</g>
<text x="1974" y="1160" class="it b" font-size="24" text-anchor="middle">V-Net</text>
<text x="1957" y="1234" class="it" font-size="28" text-anchor="middle">D(x<tspan font-size="17" dy="-11">u</tspan><tspan dy="11">; θ)</tspan></text>
<!-- connecting arrows -->
<line x1="1841" y1="890" x2="1888" y2="890" stroke="#2a78c2" stroke-width="4" marker-end="url(#mB)"/>
<polyline points="1867,890 1867,726 1888,726" fill="none" stroke="#2a78c2" stroke-width="4" marker-end="url(#mB)"/>
<polyline points="1841,898 1850,898 1850,707 1888,707" fill="none" stroke="#ee7d2f" stroke-width="4" stroke-dasharray="10,6" marker-end="url(#mO)"/>
<line x1="1850" y1="898" x2="1888" y2="898" stroke="#ee7d2f" stroke-width="4" stroke-dasharray="10,6" marker-end="url(#mO)"/>
<polyline points="1841,906 1850,906 1850,1145 1888,1145" fill="none" stroke="#ee7d2f" stroke-width="4" marker-end="url(#mO)"/>
<!-- outputs -->
<rect x="2085" y="654" width="79" height="47" fill="#a7d3e6"/>
<rect x="2083" y="713" width="85" height="47" fill="#f8d5bd"/>
<rect x="2081" y="840" width="74" height="47" fill="#a7d3e6"/>
<rect x="2081" y="898" width="81" height="48" fill="#f8d5bd"/>
<rect x="2085" y="1120" width="82" height="46" fill="#f8d5bd"/>
<line x1="2036" y1="679" x2="2084" y2="679" stroke="#2a78c2" stroke-width="4" marker-end="url(#mB)"/>
<line x1="2036" y1="740" x2="2082" y2="740" stroke="#ee7d2f" stroke-width="4" stroke-dasharray="10,6" marker-end="url(#mO)"/>
<line x1="2036" y1="870" x2="2080" y2="870" stroke="#2a78c2" stroke-width="4" marker-end="url(#mB)"/>
<line x1="2036" y1="925" x2="2080" y2="925" stroke="#ee7d2f" stroke-width="4" stroke-dasharray="10,6" marker-end="url(#mO)"/>
<line x1="2050" y1="1143" x2="2084" y2="1143" stroke="#ee7d2f" stroke-width="4" marker-end="url(#mO)"/>
<g class="it" font-size="30">
<text x="2098" y="694">p<tspan font-size="18" dy="-13">l;ψ</tspan></text>
<text x="2096" y="752">p<tspan font-size="18" dy="-13">u;ψ</tspan></text>
<text x="2094" y="880">p<tspan font-size="18" dy="-13">l;ξ</tspan></text>
<text x="2094" y="937">p<tspan font-size="18" dy="-13">u;ξ</tspan></text>
<text x="2098" y="1158">p<tspan font-size="18" dy="-13">u;θ</tspan></text>
</g>
<!-- difficulty box -->
<rect x="2174" y="606" width="518" height="256" rx="42" fill="#b3dcea" stroke="#2e75b6" stroke-width="3"/>
<text x="2200" y="634" class="it b" font-size="26" textLength="395" lengthAdjust="spacingAndGlyphs">Difficulty-aware Supervised Training</text>
<text x="2200" y="700" class="it" font-size="30">p<tspan font-size="18" dy="-13">l;ψ</tspan></text>
<line x1="2258" y1="683" x2="2546" y2="683" stroke="#000" stroke-width="3" marker-start="url(#mK)" marker-end="url(#mK)"/>
<line x1="2441" y1="768" x2="2441" y2="692" stroke="#777" stroke-width="2" stroke-dasharray="6,4" marker-end="url(#mG)"/>
<text x="2424" y="714" class="it" font-size="20" text-anchor="middle">Re-weighting</text>
<text x="2204" y="781" class="it" font-size="30">p<tspan font-size="18" dy="-13">l,ξ</tspan></text>
<text x="2356" y="762" class="it b" font-size="22" text-anchor="middle" textLength="144" lengthAdjust="spacingAndGlyphs">Class-wise Diff.</text>
<line x1="2257" y1="770" x2="2441" y2="770" stroke="#777" stroke-width="2" stroke-dasharray="6,4"/>
<path d="M2226,801 L2226,826 L2572,826 L2572,792" fill="none" stroke="#000" stroke-width="3" marker-start="url(#mK)" marker-end="url(#mK)"/>
<polygon points="2578,665 2673,711 2606,768 2513,722" fill="#2d2d2d"/>
<ellipse cx="2585" cy="702" rx="17" ry="12" fill="#d8d8d8"/><ellipse cx="2618" cy="706" rx="16" ry="11" fill="#e2e2e2"/><ellipse cx="2595" cy="726" rx="20" ry="10" fill="#a8a8a8"/><ellipse cx="2628" cy="728" rx="15" ry="9" fill="#c8c8c8"/><circle cx="2605" cy="713" r="5" fill="#fff"/>
<polygon points="2513,722 2606,768 2606,803 2513,757" fill="#2a2a2a"/>
<polygon points="2606,768 2673,711 2673,744 2606,803" fill="#050505"/>
<text transform="translate(2582,656) rotate(24)" class="it" font-size="22">Ground truth</text>
<text x="2650" y="793" class="it" font-size="30">y</text>
<!-- pseudo labeling box -->
<rect x="2172" y="898" width="520" height="207" rx="42" fill="#f8d5bd" stroke="#ee7d2f" stroke-width="3"/>
<text x="2191" y="925" class="it b" font-size="28" textLength="178" lengthAdjust="spacingAndGlyphs">Pseudo Labeling</text>
<text x="2187" y="983" class="it" font-size="30">p<tspan font-size="18" dy="-13">u;ψ</tspan></text>
<text x="2316" y="964" class="it" font-size="20" text-anchor="middle">Softmax</text>
<polyline points="2240,969 2409,969 2409,998" fill="none" stroke="#000" stroke-width="2" marker-end="url(#mK)"/>
<circle cx="2408" cy="1010" r="10" fill="none" stroke="#000" stroke-width="2"/><line x1="2398" y1="1010" x2="2418" y2="1010" stroke="#000" stroke-width="2"/><line x1="2408" y1="1000" x2="2408" y2="1020" stroke="#000" stroke-width="2"/>
<text x="2458" y="1004" class="it" font-size="20" text-anchor="middle">Argmax</text>
<line x1="2420" y1="1011" x2="2504" y2="1011" stroke="#000" stroke-width="2" marker-end="url(#mK)"/>
<text x="2191" y="1058" class="it" font-size="30">p<tspan font-size="18" dy="-13">u,ξ</tspan></text>
<text x="2318" y="1036" class="it" font-size="20" text-anchor="middle">Gumbel Softmax</text>
<polyline points="2236,1046 2409,1046 2409,1023" fill="none" stroke="#000" stroke-width="2" marker-end="url(#mK)"/>
<text x="2318" y="1077" class="it" font-size="20" text-anchor="middle">&amp; Smooth</text>
<polygon points="2574,933 2665,979 2599,1032 2508,990" fill="#2d2d2d"/>
<ellipse cx="2580" cy="969" rx="17" ry="12" fill="#d8d8d8"/><ellipse cx="2612" cy="973" rx="16" ry="11" fill="#e2e2e2"/><ellipse cx="2590" cy="993" rx="20" ry="10" fill="#a8a8a8"/><ellipse cx="2622" cy="995" rx="15" ry="9" fill="#c8c8c8"/><circle cx="2600" cy="980" r="5" fill="#fff"/>
<polygon points="2508,990 2599,1032 2599,1069 2508,1025" fill="#2a2a2a"/>
<polygon points="2599,1032 2665,979 2665,1013 2599,1069" fill="#050505"/>
<text transform="translate(2576,918) rotate(26)" class="it" font-size="22">Pseudo label</text>
<text x="2634" y="1058" class="it" font-size="30">y<tspan font-size="18" dy="-13">ξ,ψ</tspan></text>
<path d="M2581,1074 L2581,1147 L2154,1147" fill="none" stroke="#000" stroke-width="3" marker-start="url(#mK)" marker-end="url(#mK)"/>
<!-- legend -->
<line x1="1468" y1="1277" x2="1536" y2="1277" stroke="#ee7d2f" stroke-width="4" marker-end="url(#mO)"/>
<line x1="1468" y1="1299" x2="1536" y2="1299" stroke="#2a78c2" stroke-width="4" marker-end="url(#mB)"/>
<text x="1563" y="1297" class="it" font-size="24" textLength="304" lengthAdjust="spacingAndGlyphs">Forward &amp; back propagation</text>
<line x1="1931" y1="1290" x2="2006" y2="1290" stroke="#ee7d2f" stroke-width="4" stroke-dasharray="10,6" marker-end="url(#mO)"/>
<text x="2028" y="1297" class="it" font-size="24" textLength="139" lengthAdjust="spacingAndGlyphs">Stop gradient</text>
<line x1="2242" y1="1290" x2="2324" y2="1290" stroke="#000" stroke-width="3" marker-start="url(#mK)" marker-end="url(#mK)"/>
<text x="2346" y="1297" class="it" font-size="24" textLength="172" lengthAdjust="spacingAndGlyphs">Loss supervision</text>

<!-- ================= FRAMEWORK TEXT ================= -->
<g font-size="33">
<text x="1286" y="1358" textLength="1347" lengthAdjust="spacingAndGlyphs"><tspan class="b">Aggregating stage:</tspan> Diffusion V-Net to aggregate the multi-domain features into one shared encoder to</text>
<text x="1286" y="1395" textLength="901" lengthAdjust="spacingAndGlyphs">improve the capacity of capturing the distribution-invariant features.</text>
<text x="1286" y="1600" textLength="1439" lengthAdjust="spacingAndGlyphs"><tspan class="b">Decoupling stage:</tspan> decouple the decoding process to (1) a labeled data training flow to generate high-quality</text>
<text x="1286" y="1637" textLength="1262" lengthAdjust="spacingAndGlyphs">pseudo labels; (2) an unlabeled data training flow which mainly trained with the pseudo labels.</text>
</g>
<rect x="1274" y="1419" width="1451" height="135" rx="28" fill="url(#dif)"/>
<text x="1321" y="1459" font-size="31" class="b" textLength="283" lengthAdjust="spacingAndGlyphs">Diffusion for Capturing</text>
<text x="1321" y="1494" font-size="31" class="b" textLength="218" lengthAdjust="spacingAndGlyphs">Invariant Features</text>
<g font-size="26">
<circle cx="1644" cy="1440" r="3.5" fill="#000"/><circle cx="1644" cy="1471" r="3.5" fill="#000"/><circle cx="1644" cy="1501" r="3.5" fill="#000"/><circle cx="1644" cy="1531" r="3.5" fill="#000"/>
<text x="1675" y="1449" textLength="737" lengthAdjust="spacingAndGlyphs"><tspan class="b">Perceptual Diffusion process</tspan>, instead of generative Diffusion process</text>
<text x="1675" y="1479" textLength="528" lengthAdjust="spacingAndGlyphs"><tspan class="b">Recover the noisy label</tspan>, instead of the raw image</text>
<text x="1675" y="1509" textLength="415" lengthAdjust="spacingAndGlyphs">convert the label to the one-hot format</text>
<text x="1675" y="1539" textLength="571" lengthAdjust="spacingAndGlyphs">add successive <tspan class="b">t</tspan> step noise <tspan class="b">ϵ</tspan> to obtain the noisy label</text>
</g>
<text x="2282" y="1499" class="it" font-size="30" textLength="429" lengthAdjust="spacingAndGlyphs">y<tspan font-size="18" dy="6">t</tspan><tspan dy="-6"> = √ᾱ</tspan><tspan font-size="18" dy="6">t</tspan><tspan dy="-6">y</tspan><tspan font-size="18" dy="6">0</tspan><tspan dy="-6"> + √1 − ᾱ</tspan><tspan font-size="18" dy="6">t</tspan><tspan dy="-6">ϵ, ϵ ∈ 𝒩(0,1)</tspan></text>
<line x1="2345" y1="1470" x2="2380" y2="1470" stroke="#000" stroke-width="1.5"/><line x1="2468" y1="1470" x2="2560" y2="1470" stroke="#000" stroke-width="1.5"/>

<!-- box 1 -->
<rect x="1274" y="1652" width="1451" height="86" rx="24" fill="#d6f3fb"/>
<g font-size="29">
<text x="1299" y="1690" textLength="456" lengthAdjust="spacingAndGlyphs">1. Supervised Denoising Training with</text>
<text x="1333" y="1722" textLength="363" lengthAdjust="spacingAndGlyphs">the Diffusion Decoder <tspan class="it">D(x</tspan><tspan class="it" font-size="17" dy="-10">l</tspan><tspan class="it" dy="10">; ξ )</tspan></text>
<circle cx="1807" cy="1697" r="3.5" fill="#000"/>
<text x="1838" y="1706" textLength="207" lengthAdjust="spacingAndGlyphs">Diffusion backward</text>
</g>
<g class="it" font-size="28">
<text x="2128" y="1712">ℒ<tspan font-size="17" dy="6">deno</tspan><tspan dy="-6"> =</tspan></text>
<text x="2246" y="1695" text-anchor="middle" class="sf">1</text><line x1="2230" y1="1702" x2="2264" y2="1702" stroke="#000" stroke-width="1.5"/><text x="2247" y="1734" text-anchor="middle">N<tspan font-size="16" dy="5">L</tspan></text>
<text x="2270" y="1722" class="sf" font-size="44">∑</text><text x="2278" y="1672" font-size="16">N<tspan font-size="12" dy="4">L</tspan></text><text x="2273" y="1742" font-size="16">i=0</text>
<text x="2308" y="1712" textLength="200" lengthAdjust="spacingAndGlyphs">ℒ<tspan font-size="17" dy="6">DiceCE</tspan><tspan dy="-6">(p</tspan><tspan font-size="16" dy="-12">l;ξ</tspan><tspan dy="12">, y</tspan><tspan font-size="16" dy="5">i</tspan><tspan dy="-5">)</tspan></text>
</g>
<!-- box 2 -->
<rect x="1274" y="1752" width="1451" height="168" rx="24" fill="#d6f3fb"/>
<g font-size="29">
<text x="1297" y="1791" textLength="364" lengthAdjust="spacingAndGlyphs">2. Supervised Difficulty-aware</text>
<text x="1328" y="1823" textLength="261" lengthAdjust="spacingAndGlyphs">Training with <tspan class="it">D(x</tspan><tspan class="it" font-size="17" dy="-10">l</tspan><tspan class="it" dy="10">; ψ )</tspan></text>
</g>
<g font-size="28">
<circle cx="1300" cy="1857" r="3.5" fill="#000"/><circle cx="1300" cy="1896" r="3.5" fill="#000"/>
<text x="1335" y="1866" textLength="707" lengthAdjust="spacingAndGlyphs">Population Stability Index to measure learning speed of each class</text>
<text x="1335" y="1905" textLength="609" lengthAdjust="spacingAndGlyphs">Dice score to measure current performance of each class</text>
</g>
<g class="it" font-size="26">
<text x="1805" y="1806">ℒ<tspan font-size="16" dy="6">diff</tspan><tspan dy="-6"> =</tspan></text>
<text x="1913" y="1790" text-anchor="middle" class="sf">1</text><line x1="1898" y1="1797" x2="1928" y2="1797" stroke="#000" stroke-width="1.5"/><text x="1913" y="1826" text-anchor="middle">N<tspan font-size="15" dy="5">L</tspan></text>
<text x="1946" y="1790" text-anchor="middle" class="sf">1</text><line x1="1936" y1="1797" x2="1956" y2="1797" stroke="#000" stroke-width="1.5"/><text x="1946" y="1826" text-anchor="middle">K</text>
<text x="1960" y="1818" class="sf" font-size="42">∑∑</text><text x="1968" y="1769" font-size="15">N<tspan font-size="11" dy="4">L</tspan></text><text x="2005" y="1769" font-size="15">K</text><text x="1960" y="1840" font-size="15">i=0 k=0</text>
<text x="2043" y="1806" textLength="260" lengthAdjust="spacingAndGlyphs">w<tspan font-size="15" dy="-12">diff</tspan><tspan dy="12">ℒ</tspan><tspan font-size="16" dy="6">DiceCE</tspan><tspan dy="-6">(p</tspan><tspan font-size="15" dy="-12">l;ψ</tspan><tspan dy="12">, y</tspan><tspan font-size="15" dy="5">i,k</tspan><tspan dy="-5">)</tspan></text>
<text x="2341" y="1798" font-size="22" textLength="200" lengthAdjust="spacingAndGlyphs">w<tspan font-size="13" dy="-10">diff</tspan><tspan dy="10"> = w</tspan><tspan font-size="12" dy="5">λk,e</tspan><tspan dy="-5"> · (d</tspan><tspan font-size="12" dy="5">k,e</tspan><tspan dy="-5">)</tspan><tspan font-size="13" dy="-10">α</tspan></text>
<text x="2578" y="1800" font-size="22">d<tspan font-size="13" dy="5">k,e</tspan><tspan dy="-5"> =</tspan></text>
<text x="2665" y="1788" font-size="22" text-anchor="middle">du<tspan font-size="13" dy="5">k,e</tspan></text><line x1="2640" y1="1795" x2="2692" y2="1795" stroke="#000" stroke-width="1.2"/><text x="2665" y="1820" font-size="22" text-anchor="middle">dl<tspan font-size="13" dy="5">k,e</tspan></text>
<text x="2064" y="1882" font-size="22" textLength="300" lengthAdjust="spacingAndGlyphs">du<tspan font-size="13" dy="5">k,e</tspan><tspan dy="-5"> = ∑ min(Δ,0)ln(λ</tspan><tspan font-size="13" dy="5">k,e</tspan><tspan dy="-5">/λ</tspan><tspan font-size="13" dy="5">k,e−1</tspan><tspan dy="-5">),</tspan></text>
<text x="2388" y="1882" font-size="22" textLength="295" lengthAdjust="spacingAndGlyphs">dl<tspan font-size="13" dy="5">k,e</tspan><tspan dy="-5"> = ∑ max(Δ,0)ln(λ</tspan><tspan font-size="13" dy="5">k,e</tspan><tspan dy="-5">/λ</tspan><tspan font-size="13" dy="5">k,e−1</tspan><tspan dy="-5">)</tspan></text>
<text x="2135" y="1857" font-size="14">e</text><text x="2128" y="1908" font-size="14">e−τ</text>
<text x="2455" y="1857" font-size="14">e</text><text x="2448" y="1908" font-size="14">e−τ</text>
</g>
<!-- box 3 -->
<rect x="1274" y="1936" width="1451" height="154" rx="24" fill="#d6f3fb"/>
<g font-size="29">
<text x="1297" y="1970" textLength="484" lengthAdjust="spacingAndGlyphs">3. Pseudo Labeling with Reparameterize</text>
<text x="1331" y="2002" textLength="273" lengthAdjust="spacingAndGlyphs">&amp; Smooth (RS) Strategy</text>
</g>
<text x="2064" y="1985" class="it" font-size="24" textLength="552" lengthAdjust="spacingAndGlyphs">y<tspan font-size="15" dy="-11">ξ,ψ</tspan><tspan dy="11"> = </tspan><tspan style="font-family:'Liberation Mono',monospace;font-style:normal">argmax(Gumbel-Sofmax(</tspan>p<tspan font-size="15" dy="-11">u;ξ</tspan><tspan dy="11" style="font-family:'Liberation Mono',monospace;font-style:normal">) + Softmax(</tspan>p<tspan font-size="15" dy="-11">u;ψ</tspan><tspan dy="11">))</tspan></text>
<g font-size="28">
<circle cx="1307" cy="2031" r="3.5" fill="#000"/><circle cx="1307" cy="2061" r="3.5" fill="#000"/>
<text x="1339" y="2040" textLength="1026" lengthAdjust="spacingAndGlyphs"><tspan text-decoration="underline">domain-unbiased pseudo label</tspan>: Denoising Diffusion Implicit Models (DDIM) method of <tspan class="it">D(x</tspan><tspan class="it" font-size="16" dy="-10">l</tspan><tspan class="it" dy="10">; ξ )</tspan></text>
<text x="1339" y="2070" textLength="755" lengthAdjust="spacingAndGlyphs"><tspan text-decoration="underline">class-unbiased pseudo label</tspan>: stopped gradient forward pass of <tspan class="it">D(x</tspan><tspan class="it" font-size="16" dy="-10">l</tspan><tspan class="it" dy="10">; ψ )</tspan></text>
</g>
<!-- box 4 -->
<rect x="1274" y="2104" width="1451" height="130" rx="24" fill="url(#b4)"/>
<g font-size="29">
<text x="1297" y="2149" textLength="458" lengthAdjust="spacingAndGlyphs">4. Unsupervised Training with <tspan class="it">D(x</tspan><tspan class="it" font-size="17" dy="-10">u</tspan><tspan class="it" dy="10">; θ)</tspan></text>
</g>
<g font-size="27">
<circle cx="1313" cy="2178" r="3.5" fill="#000"/><circle cx="1313" cy="2208" r="3.5" fill="#000"/>
<text x="1343" y="2187" textLength="348" lengthAdjust="spacingAndGlyphs">Pseudo-label-supervised training</text>
<text x="1343" y="2217" textLength="326" lengthAdjust="spacingAndGlyphs">Only use <tspan class="it">D(x</tspan><tspan class="it" font-size="16" dy="-10">u</tspan><tspan class="it" dy="10">; θ)</tspan> for inference</text>
</g>
<g class="it" font-size="26">
<text x="1739" y="2190">ℒ<tspan font-size="16" dy="6">u</tspan><tspan dy="-6"> =</tspan></text>
<text x="1830" y="2172" text-anchor="middle" class="sf">1</text><line x1="1815" y1="2179" x2="1845" y2="2179" stroke="#000" stroke-width="1.5"/><text x="1830" y="2208" text-anchor="middle">N<tspan font-size="15" dy="5">U</tspan></text>
<text x="1855" y="2200" class="sf" font-size="42">∑</text><text x="1862" y="2152" font-size="15">N<tspan font-size="11" dy="4">U</tspan></text><text x="1857" y="2222" font-size="15">i=0</text>
<text x="1890" y="2190" textLength="219" lengthAdjust="spacingAndGlyphs">ℒ<tspan font-size="16" dy="6">DiceCE</tspan><tspan dy="-6">(p</tspan><tspan font-size="15" dy="-12">u;θ</tspan><tspan dy="12">, y</tspan><tspan font-size="15" dy="-12">ξ,ψ</tspan><tspan dy="12">)</tspan></text>
</g>
<g font-size="29">
<text x="2159" y="2140" textLength="474" lengthAdjust="spacingAndGlyphs"><tspan text-decoration="underline">Knowledge distillation strategy</tspan> to better</text>
<text x="2159" y="2173" textLength="544" lengthAdjust="spacingAndGlyphs">leverage domain- and class-unbiased features</text>
</g>
<text x="2194" y="2213" class="it" font-size="27" textLength="427" lengthAdjust="spacingAndGlyphs">θ = w<tspan font-size="16" dy="5">ema</tspan><tspan dy="-5"> × θ + (1 − w</tspan><tspan font-size="16" dy="5">ema</tspan><tspan dy="-5">) × (ξ + ψ)/2</tspan></text>

<!-- ================= QUALITATIVE ================= -->
<rect x="1384" y="2324" width="468" height="281" fill="#fff" stroke="#000" stroke-width="3"/>
<g fill="#000"><rect x="1402" y="2330" width="145" height="119"/><rect x="1552" y="2330" width="144" height="119"/><rect x="1703" y="2330" width="145" height="119"/><rect x="1402" y="2455" width="145" height="126"/><rect x="1552" y="2455" width="144" height="126"/><rect x="1703" y="2455" width="145" height="126"/></g>
<g>
<ellipse cx="1440" cy="2400" rx="26" ry="30" fill="#e020e0"/><ellipse cx="1445" cy="2402" rx="15" ry="22" fill="#20d020"/><ellipse cx="1478" cy="2380" rx="7" ry="35" fill="#2030e0"/><ellipse cx="1510" cy="2392" rx="14" ry="22" fill="#e02020"/><ellipse cx="1465" cy="2418" rx="12" ry="14" fill="#d8b890"/><ellipse cx="1495" cy="2405" rx="8" ry="16" fill="#4040f0"/><line x1="1432" y1="2345" x2="1448" y2="2378" stroke="#ffee00" stroke-width="3"/><line x1="1498" y1="2345" x2="1488" y2="2378" stroke="#ffee00" stroke-width="3"/>
<ellipse cx="1590" cy="2400" rx="26" ry="30" fill="#e020e0"/><ellipse cx="1595" cy="2402" rx="15" ry="22" fill="#20d020"/><ellipse cx="1628" cy="2380" rx="7" ry="35" fill="#2030e0"/><ellipse cx="1660" cy="2392" rx="14" ry="22" fill="#e02020"/><ellipse cx="1615" cy="2418" rx="12" ry="16" fill="#e8dcc0"/><ellipse cx="1645" cy="2405" rx="8" ry="16" fill="#4040f0"/><line x1="1582" y1="2345" x2="1598" y2="2378" stroke="#ffee00" stroke-width="3"/><line x1="1648" y1="2345" x2="1638" y2="2378" stroke="#ffee00" stroke-width="3"/>
<ellipse cx="1741" cy="2400" rx="24" ry="26" fill="#e020e0"/><ellipse cx="1746" cy="2402" rx="12" ry="18" fill="#20d020"/><ellipse cx="1778" cy="2380" rx="6" ry="32" fill="#2030e0"/><ellipse cx="1812" cy="2392" rx="12" ry="20" fill="#e02020"/><ellipse cx="1790" cy="2405" rx="14" ry="16" fill="#e8dcc0"/><circle cx="1810" cy="2430" r="5" fill="#e8dcc0"/><circle cx="1712" cy="2440" r="3" fill="#e020e0"/>
</g>
<g>
<ellipse cx="1474" cy="2518" rx="62" ry="58" fill="#3a3a3a"/><ellipse cx="1474" cy="2518" rx="54" ry="50" fill="#555"/><ellipse cx="1474" cy="2490" rx="20" ry="15" fill="#999"/><ellipse cx="1445" cy="2525" rx="16" ry="38" fill="#ff00ff"/><ellipse cx="1505" cy="2510" rx="10" ry="24" fill="#ff2020"/><ellipse cx="1478" cy="2555" rx="18" ry="14" fill="#f5e0c8"/><ellipse cx="1480" cy="2525" rx="12" ry="6" fill="#40c0b0"/><circle cx="1478" cy="2505" r="5" fill="#2020d0"/>
<ellipse cx="1624" cy="2518" rx="62" ry="58" fill="#3a3a3a"/><ellipse cx="1624" cy="2518" rx="54" ry="50" fill="#555"/><ellipse cx="1624" cy="2490" rx="20" ry="15" fill="#999"/><ellipse cx="1595" cy="2525" rx="16" ry="38" fill="#ff00ff"/><ellipse cx="1655" cy="2510" rx="10" ry="24" fill="#ff2020"/><ellipse cx="1628" cy="2555" rx="20" ry="16" fill="#f5e0c8"/><ellipse cx="1630" cy="2525" rx="12" ry="6" fill="#40c0b0"/><circle cx="1628" cy="2505" r="5" fill="#2020d0"/>
<ellipse cx="1775" cy="2518" rx="62" ry="58" fill="#3a3a3a"/><ellipse cx="1775" cy="2518" rx="54" ry="50" fill="#555"/><ellipse cx="1775" cy="2490" rx="20" ry="15" fill="#999"/><ellipse cx="1746" cy="2525" rx="15" ry="36" fill="#ff00ff"/><ellipse cx="1806" cy="2510" rx="10" ry="22" fill="#ff2020"/><ellipse cx="1780" cy="2555" rx="14" ry="10" fill="#f5e0c8"/><circle cx="1779" cy="2505" r="5" fill="#2020d0"/>
</g>
<g class="sf" font-size="17" text-anchor="middle"><text x="1475" y="2599">GT</text><text x="1624" y="2599">A&amp;D (ours)</text><text x="1775" y="2599">CLD</text></g>
<text transform="translate(1397,2390) rotate(-90)" class="sf" font-size="15" text-anchor="middle">3D View</text>
<text transform="translate(1397,2518) rotate(-90)" class="sf" font-size="15" text-anchor="middle">2D View</text>

<rect x="2090" y="2326" width="512" height="277" fill="#fff" stroke="#000" stroke-width="3"/>
<line x1="2090" y1="2465" x2="2602" y2="2465" stroke="#000" stroke-width="3"/>
<g class="sf" font-size="17" text-anchor="middle"><text x="2231" y="2341">2D View</text><text x="2478" y="2341">3D View</text></g>
<g>
<rect x="2113" y="2345" width="114" height="115" fill="#8a8a8a"/><ellipse cx="2160" cy="2410" rx="35" ry="50" fill="#d8d8d8"/><ellipse cx="2188" cy="2360" rx="15" ry="14" fill="#e8d84a"/><ellipse cx="2172" cy="2403" rx="13" ry="14" fill="#e8d84a"/><ellipse cx="2198" cy="2410" rx="14" ry="24" fill="#40c040"/><ellipse cx="2185" cy="2428" rx="8" ry="8" fill="#4050e0"/><ellipse cx="2190" cy="2446" rx="13" ry="12" fill="#c02020"/>
<rect x="2235" y="2345" width="115" height="115" fill="#8a8a8a"/><ellipse cx="2280" cy="2410" rx="30" ry="50" fill="#d8d8d8"/><ellipse cx="2310" cy="2360" rx="13" ry="14" fill="#e8d84a"/><ellipse cx="2270" cy="2415" rx="10" ry="38" fill="#e8e060"/><ellipse cx="2296" cy="2403" rx="12" ry="14" fill="#e8d84a"/><ellipse cx="2322" cy="2410" rx="14" ry="24" fill="#40c040"/><ellipse cx="2305" cy="2428" rx="9" ry="8" fill="#4050e0"/><ellipse cx="2312" cy="2446" rx="13" ry="12" fill="#c02020"/>
<rect x="2360" y="2345" width="114" height="115" fill="#000"/><ellipse cx="2420" cy="2420" rx="20" ry="36" fill="#e01010"/><ellipse cx="2405" cy="2375" rx="8" ry="22" fill="#e8e040" transform="rotate(-15 2405 2375)"/><circle cx="2425" cy="2385" r="8" fill="#30c030"/>
<rect x="2481" y="2345" width="114" height="115" fill="#000"/><ellipse cx="2542" cy="2418" rx="22" ry="38" fill="#e01010"/><ellipse cx="2520" cy="2390" rx="8" ry="32" fill="#e8e040"/><circle cx="2545" cy="2385" r="9" fill="#30c030"/>
<rect x="2113" y="2470" width="114" height="115" fill="#555"/><rect x="2150" y="2472" width="32" height="70" fill="#d8cc50"/><ellipse cx="2200" cy="2537" rx="22" ry="38" fill="#70e070"/><ellipse cx="2160" cy="2560" rx="8" ry="15" fill="#c02020"/><circle cx="2176" cy="2545" r="5" fill="#3040e0"/><circle cx="2200" cy="2485" r="9" fill="#eee"/>
<rect x="2235" y="2470" width="115" height="115" fill="#555"/><rect x="2272" y="2472" width="32" height="70" fill="#d8cc50"/><ellipse cx="2322" cy="2537" rx="22" ry="38" fill="#70e070"/><ellipse cx="2282" cy="2560" rx="8" ry="15" fill="#c02020"/><circle cx="2298" cy="2545" r="5" fill="#3040e0"/><circle cx="2322" cy="2485" r="9" fill="#eee"/>
<rect x="2360" y="2470" width="114" height="115" fill="#000"/><rect x="2410" y="2485" width="20" height="50" rx="10" fill="#e8e040"/><ellipse cx="2398" cy="2545" rx="14" ry="16" fill="#30c030"/><ellipse cx="2428" cy="2548" rx="20" ry="22" fill="#e01010"/>
<rect x="2481" y="2470" width="114" height="115" fill="#000"/><rect x="2530" y="2485" width="20" height="48" rx="10" fill="#e8e040"/><ellipse cx="2520" cy="2545" rx="14" ry="16" fill="#30c030"/><ellipse cx="2550" cy="2550" rx="20" ry="22" fill="#e01010"/>
</g>
<g class="sf" font-size="17" text-anchor="middle"><text x="2170" y="2599">GT</text><text x="2292" y="2599">Pred</text><text x="2417" y="2599">GT</text><text x="2538" y="2599">Pred</text></g>
<text transform="translate(2106,2402) rotate(-90)" class="sf b" font-size="15" text-anchor="middle">CT to MR</text>
<text transform="translate(2106,2528) rotate(-90)" class="sf b" font-size="15" text-anchor="middle">MR to CT</text>
<text x="1615" y="2643" font-size="30" class="b" text-anchor="middle" textLength="342" lengthAdjust="spacingAndGlyphs">IBSSL on Syanpse dataset</text>
<text x="2343" y="2643" font-size="30" class="b" text-anchor="middle" textLength="351" lengthAdjust="spacingAndGlyphs">UDA on MMWHS dataset</text>

<!-- ================= QUANTITATIVE: LASeg ================= -->
<text x="2833" y="572" font-size="32" class="b" textLength="288" lengthAdjust="spacingAndGlyphs">LASeg dataset for SSL</text>
<text x="3352" y="572" font-size="32" class="b" textLength="354" lengthAdjust="spacingAndGlyphs">MMWHS dataset for UDA</text>
<g stroke="#000">
<line x1="2824" y1="589" x2="3293" y2="589" stroke-width="2"/><line x1="2824" y1="615" x2="3293" y2="615" stroke-width="1.5"/><line x1="2824" y1="663" x2="3293" y2="663" stroke-width="1.2"/>
<line x1="2824" y1="872" x2="3293" y2="872" stroke-width="1.5"/><line x1="2824" y1="876" x2="3293" y2="876" stroke-width="1.5"/><line x1="2824" y1="898" x2="3293" y2="898" stroke-width="1.5"/><line x1="2824" y1="948" x2="3293" y2="948" stroke-width="1.2"/><line x1="2824" y1="1168" x2="3293" y2="1168" stroke-width="2"/>
</g>
<rect x="2824" y="844" width="469" height="21" fill="#c6e4ef"/>
<rect x="2824" y="1146" width="469" height="20" fill="#c6e4ef"/>
<g class="sf" font-size="17">
<text x="3058" y="609" text-anchor="middle">5% labeled data (labeled:unlabeled=4:76)</text>
<text x="3141" y="636" text-anchor="middle">Metrics</text><text x="2841" y="645">Method</text>
<text y="654" text-anchor="middle"><tspan x="3019">Dice</tspan><tspan x="3100">Jaccard</tspan><tspan x="3182">95HD</tspan><tspan x="3257">ASD</tspan></text>
<text x="2841" y="683">V-Net (fully)</text><text x="2841" y="702">V-Net (5%)</text><text x="2841" y="721">UA-MT [8]</text><text x="2841" y="740">SASSNet [9]</text><text x="2841" y="759">DTC [11]</text><text x="2841" y="779">URPC [10]</text><text x="2841" y="798">MC-Net [12]</text><text x="2841" y="818">SS-Net [17]†</text><text x="2841" y="839">BCP [76]†</text><text x="2841" y="859" class="b">A&amp;D (ours)</text>
<g text-anchor="middle">
<text y="683"><tspan x="3019">91.47</tspan><tspan x="3100">84.36</tspan><tspan x="3182">5.48</tspan><tspan x="3257">1.51</tspan></text>
<text y="702"><tspan x="3019">52.55</tspan><tspan x="3100">39.60</tspan><tspan x="3182">47.05</tspan><tspan x="3257">9.87</tspan></text>
<text y="721"><tspan x="3019">82.26</tspan><tspan x="3100">70.98</tspan><tspan x="3182">13.71</tspan><tspan x="3257">3.82</tspan></text>
<text y="740"><tspan x="3019">81.60</tspan><tspan x="3100">69.63</tspan><tspan x="3182">16.16</tspan><tspan x="3257">3.58</tspan></text>
<text y="759"><tspan x="3019">81.25</tspan><tspan x="3100">69.33</tspan><tspan x="3182">14.90</tspan><tspan x="3257">3.99</tspan></text>
<text y="779"><tspan x="3019">82.48</tspan><tspan x="3100">71.35</tspan><tspan x="3182">14.65</tspan><tspan x="3257">3.65</tspan></text>
<text y="798"><tspan x="3019">83.59</tspan><tspan x="3100">72.36</tspan><tspan x="3182">14.07</tspan><tspan x="3257">2.70</tspan></text>
<text y="818"><tspan x="3019">86.33</tspan><tspan x="3100">76.15</tspan><tspan x="3182">9.97</tspan><tspan x="3257">2.31</tspan></text>
<text y="839"><tspan x="3019">88.02</tspan><tspan x="3100">78.72</tspan><tspan x="3182">7.90</tspan><tspan x="3257">2.15</tspan></text>
<text y="859" class="b"><tspan x="3019">89.93</tspan><tspan x="3100">81.82</tspan><tspan x="3182">5.25</tspan><tspan x="3257">1.86</tspan></text>
</g>
<text x="3058" y="891" text-anchor="middle">10% labeled data (labeled:unlabeled=8:72)</text>
<text x="3141" y="917" text-anchor="middle">Metrics</text><text x="2841" y="927">Method</text>
<text y="936" text-anchor="middle"><tspan x="3019">Dice</tspan><tspan x="3100">Jaccard</tspan><tspan x="3182">95HD</tspan><tspan x="3257">ASD</tspan></text>
<text x="2841" y="965">V-Net (10%)</text><text x="2841" y="984">UA-MT [8]</text><text x="2841" y="1004">SASSNet [9]</text><text x="2841" y="1023">DTC [11]</text><text x="2841" y="1042">URPC [10]</text><text x="2841" y="1061">LMISA-3D [77]*</text><text x="2841" y="1080">vMFNet [55]*</text><text x="2841" y="1100">MC-Net [12]</text><text x="2841" y="1120">SS-Net [17]†</text><text x="2841" y="1141">BCP [76]†</text><text x="2841" y="1161" class="b">A&amp;D (ours)</text>
<g text-anchor="middle">
<text y="965"><tspan x="3019">82.74</tspan><tspan x="3100">71.72</tspan><tspan x="3182">13.35</tspan><tspan x="3257">3.26</tspan></text>
<text y="984"><tspan x="3019">87.79</tspan><tspan x="3100">78.39</tspan><tspan x="3182">8.68</tspan><tspan x="3257">2.12</tspan></text>
<text y="1004"><tspan x="3019">87.54</tspan><tspan x="3100">78.05</tspan><tspan x="3182">9.84</tspan><tspan x="3257">2.59</tspan></text>
<text y="1023"><tspan x="3019">87.51</tspan><tspan x="3100">78.17</tspan><tspan x="3182">8.23</tspan><tspan x="3257">2.36</tspan></text>
<text y="1042"><tspan x="3019">86.92</tspan><tspan x="3100">77.03</tspan><tspan x="3182">11.13</tspan><tspan x="3257">2.28</tspan></text>
<text y="1061"><tspan x="3019">86.06</tspan><tspan x="3100">76.53</tspan><tspan x="3182">12.99</tspan><tspan x="3257">2.41</tspan></text>
<text y="1080"><tspan x="3019">73.88</tspan><tspan x="3100">62.56</tspan><tspan x="3182">16.81</tspan><tspan x="3257">5.04</tspan></text>
<text y="1100"><tspan x="3019">87.62</tspan><tspan x="3100">78.25</tspan><tspan x="3182">10.03</tspan><tspan x="3257">1.82</tspan></text>
<text y="1120"><tspan x="3019">88.55</tspan><tspan x="3100">79.62</tspan><tspan x="3182">7.49</tspan><tspan x="3257">1.90</tspan></text>
<text y="1141"><tspan x="3019">89.62</tspan><tspan x="3100">81.31</tspan><tspan x="3182">6.81</tspan><tspan x="3257">1.76</tspan></text>
<text y="1161" class="b"><tspan x="3019">90.31</tspan><tspan x="3100">82.40</tspan><tspan x="3182">5.55</tspan><tspan x="3257">1.64</tspan></text>
</g>
<text x="2833" y="1192" font-size="15">† use test set for validation, we use labeled data instead.</text>
<text x="2833" y="1212" font-size="15">* SOTA methods tailored for UDA and SemiDG, respectively.</text>
</g>

<!-- MMWHS -->
<g stroke="#000">
<line x1="3347" y1="589" x2="3837" y2="589" stroke-width="2"/><line x1="3347" y1="615" x2="3837" y2="615" stroke-width="1.5"/><line x1="3347" y1="665" x2="3837" y2="665" stroke-width="1.2"/>
<line x1="3347" y1="876" x2="3837" y2="876" stroke-width="1.5"/><line x1="3347" y1="880" x2="3837" y2="880" stroke-width="1.5"/><line x1="3347" y1="906" x2="3837" y2="906" stroke-width="1.5"/><line x1="3347" y1="955" x2="3837" y2="955" stroke-width="1.2"/><line x1="3347" y1="1185" x2="3837" y2="1185" stroke-width="2"/>
<line x1="3695" y1="640" x2="3695" y2="872" stroke-width="1"/><line x1="3765" y1="620" x2="3765" y2="872" stroke-width="1"/>
<line x1="3695" y1="930" x2="3695" y2="1182" stroke-width="1"/><line x1="3765" y1="910" x2="3765" y2="1182" stroke-width="1"/>
</g>
<rect x="3347" y="851" width="490" height="21" fill="#c6e4ef"/>
<rect x="3347" y="1161" width="490" height="21" fill="#c6e4ef"/>
<g class="sf" font-size="17">
<text x="3591" y="609" text-anchor="middle">MR to CT</text>
<text x="3634" y="636" text-anchor="middle">Dice</text><text x="3801" y="636" text-anchor="middle">ASD</text><text x="3352" y="646">Method</text>
<text y="655" text-anchor="middle"><tspan x="3526">AA</tspan><tspan x="3570">LAC</tspan><tspan x="3617">LVC</tspan><tspan x="3665">MYO</tspan><tspan x="3729">Average</tspan><tspan x="3801">Average</tspan></text>
<text x="3352" y="685">Supervised Training</text><text x="3352" y="705">PnP-AdaNet [38]</text><text x="3352" y="725">AdaOutput [37]</text><text x="3352" y="745">CycleGAN [34]</text><text x="3352" y="765">CyCADA [36]</text><text x="3352" y="785">SIFA [41]</text><text x="3352" y="805">DSFN [42]</text><text x="3352" y="825">DSAN [43]</text><text x="3352" y="845">LMISA-3D [77]</text><text x="3352" y="866" class="b">A&amp;D (ours)</text>
<g text-anchor="middle">
<text y="685"><tspan x="3526">92.7</tspan><tspan x="3570">91.1</tspan><tspan x="3617">91.9</tspan><tspan x="3665">87.8</tspan><tspan x="3729">90.9</tspan><tspan x="3801">2.2</tspan></text>
<text y="705"><tspan x="3526">74.0</tspan><tspan x="3570">68.9</tspan><tspan x="3617">61.9</tspan><tspan x="3665">50.8</tspan><tspan x="3729">63.9</tspan><tspan x="3801">12.8</tspan></text>
<text y="725"><tspan x="3526">65.2</tspan><tspan x="3570">76.6</tspan><tspan x="3617">54.4</tspan><tspan x="3665">43.6</tspan><tspan x="3729">59.9</tspan><tspan x="3801">9.6</tspan></text>
<text y="745"><tspan x="3526">73.8</tspan><tspan x="3570">75.7</tspan><tspan x="3617">52.3</tspan><tspan x="3665">28.7</tspan><tspan x="3729">57.6</tspan><tspan x="3801">10.8</tspan></text>
<text y="765"><tspan x="3526">72.9</tspan><tspan x="3570">77.0</tspan><tspan x="3617">62.4</tspan><tspan x="3665">45.3</tspan><tspan x="3729">64.4</tspan><tspan x="3801">9.4</tspan></text>
<text y="785"><tspan x="3526">81.3</tspan><tspan x="3570">79.5</tspan><tspan x="3617">73.8</tspan><tspan x="3665">61.6</tspan><tspan x="3729">74.1</tspan><tspan x="3801">7.0</tspan></text>
<text y="805"><tspan x="3526">84.7</tspan><tspan x="3570">76.9</tspan><tspan x="3617">79.1</tspan><tspan x="3665">62.4</tspan><tspan x="3729">75.8</tspan><tspan x="3801">N/A</tspan></text>
<text y="825"><tspan x="3526">79.9</tspan><tspan x="3570">84.8</tspan><tspan x="3617">82.8</tspan><tspan x="3665">66.5</tspan><tspan x="3729">78.5</tspan><tspan x="3801">5.9</tspan></text>
<text y="845"><tspan x="3526">84.5</tspan><tspan x="3570">82.8</tspan><tspan x="3617">88.6</tspan><tspan x="3665">70.1</tspan><tspan x="3729">81.5</tspan><tspan x="3801">2.3</tspan></text>
<text y="866" class="b"><tspan x="3526">93.2</tspan><tspan x="3570">89.5</tspan><tspan x="3617">91.7</tspan><tspan x="3665">86.2</tspan><tspan x="3729">90.1</tspan><tspan x="3801">1.7</tspan></text>
</g>
<text x="3591" y="900" text-anchor="middle">CT to MR</text>
<text x="3634" y="926" text-anchor="middle">Dice</text><text x="3801" y="926" text-anchor="middle">ASD</text><text x="3352" y="936">Method</text>
<text y="946" text-anchor="middle"><tspan x="3526">AA</tspan><tspan x="3570">LAC</tspan><tspan x="3617">LVC</tspan><tspan x="3665">MYO</tspan><tspan x="3729">Average</tspan><tspan x="3801">Average</tspan></text>
<text x="3352" y="976">Supervised Training</text><text x="3352" y="996">PnP-AdaNet [38]</text><text x="3352" y="1016">AdaOutput [37]</text><text x="3352" y="1036">CycleGAN [34]</text><text x="3352" y="1056">CyCADA [36]</text><text x="3352" y="1076">SIFA [41]</text><text x="3352" y="1096">DSAN [43]</text><text x="3352" y="1116">LMISA-3D [77]</text><text x="3352" y="1135">SS-Net [17]*</text><text x="3352" y="1156">BCP [76]*</text><text x="3352" y="1177" class="b">A&amp;D (ours)</text>
<g text-anchor="middle">
<text y="976"><tspan x="3526">82.8</tspan><tspan x="3570">80.5</tspan><tspan x="3617">92.4</tspan><tspan x="3665">78.8</tspan><tspan x="3729">83.6</tspan><tspan x="3801">2.9</tspan></text>
<text y="996"><tspan x="3526">43.7</tspan><tspan x="3570">68.9</tspan><tspan x="3617">61.9</tspan><tspan x="3665">50.8</tspan><tspan x="3729">63.9</tspan><tspan x="3801">8.9</tspan></text>
<text y="1016"><tspan x="3526">60.8</tspan><tspan x="3570">39.8</tspan><tspan x="3617">71.5</tspan><tspan x="3665">35.5</tspan><tspan x="3729">51.9</tspan><tspan x="3801">5.7</tspan></text>
<text y="1036"><tspan x="3526">64.3</tspan><tspan x="3570">30.7</tspan><tspan x="3617">65.0</tspan><tspan x="3665">43.0</tspan><tspan x="3729">50.7</tspan><tspan x="3801">6.6</tspan></text>
<text y="1056"><tspan x="3526">60.5</tspan><tspan x="3570">44.0</tspan><tspan x="3617">77.6</tspan><tspan x="3665">47.9</tspan><tspan x="3729">57.5</tspan><tspan x="3801">7.9</tspan></text>
<text y="1076"><tspan x="3526">65.3</tspan><tspan x="3570">62.3</tspan><tspan x="3617">78.9</tspan><tspan x="3665">47.3</tspan><tspan x="3729">63.4</tspan><tspan x="3801">5.7</tspan></text>
<text y="1096"><tspan x="3526" class="b">71.3</tspan><tspan x="3570">66.2</tspan><tspan x="3617">76.2</tspan><tspan x="3665">52.1</tspan><tspan x="3729">66.5</tspan><tspan x="3801">5.4</tspan></text>
<text y="1116"><tspan x="3526">60.7</tspan><tspan x="3570">72.4</tspan><tspan x="3617" class="b">86.2</tspan><tspan x="3665">64.1</tspan><tspan x="3729">70.8</tspan><tspan x="3801" class="b">3.6</tspan></text>
<text y="1135"><tspan x="3526">62.1</tspan><tspan x="3570">58.4</tspan><tspan x="3617">68.9</tspan><tspan x="3665">51.4</tspan><tspan x="3729">60.2</tspan><tspan x="3801">5.9</tspan></text>
<text y="1156"><tspan x="3526">63.6</tspan><tspan x="3570">63.7</tspan><tspan x="3617">70.9</tspan><tspan x="3665">58.0</tspan><tspan x="3729">64.1</tspan><tspan x="3801">4.5</tspan></text>
<text y="1177"><tspan x="3526">62.8</tspan><tspan x="3570" class="b">87.4</tspan><tspan x="3617">61.3</tspan><tspan x="3665" class="b">74.1</tspan><tspan x="3729" class="b">71.4</tspan><tspan x="3801">7.9</tspan></text>
</g>
<text x="3365" y="1208" font-size="15">* SOTA methods on semi-supervised segmentation.</text>
</g>

<!-- Synapse -->
<text x="2829" y="1257" font-size="32" class="b" textLength="527" lengthAdjust="spacingAndGlyphs">20% labeled setting of Synapse dataset</text>
<g stroke="#000">
<line x1="2831" y1="1277" x2="3850" y2="1277" stroke-width="2.5"/><line x1="2831" y1="1332" x2="3850" y2="1332" stroke-width="1.2"/><line x1="2831" y1="1367" x2="3850" y2="1367" stroke-width="1.5"/><line x1="2831" y1="1507" x2="3850" y2="1507" stroke-width="1.5"/><line x1="2831" y1="1669" x2="3850" y2="1669" stroke-width="2.5"/>
<line x1="2998" y1="1285" x2="2998" y2="1325" stroke-width="1"/><line x1="3211" y1="1285" x2="3211" y2="1325" stroke-width="1"/>
<line x1="2998" y1="1340" x2="2998" y2="1362" stroke-width="1"/><line x1="3211" y1="1340" x2="3211" y2="1362" stroke-width="1"/><line x1="2860" y1="1340" x2="2860" y2="1362" stroke-width="1"/>
<line x1="2998" y1="1374" x2="2998" y2="1502" stroke-width="1"/><line x1="3211" y1="1374" x2="3211" y2="1502" stroke-width="1"/><line x1="2860" y1="1374" x2="2860" y2="1502" stroke-width="1"/>
<line x1="2998" y1="1514" x2="2998" y2="1665" stroke-width="1"/><line x1="3211" y1="1514" x2="3211" y2="1665" stroke-width="1"/><line x1="2860" y1="1514" x2="2860" y2="1665" stroke-width="1"/>
</g>
<rect x="2831" y="1642" width="1019" height="22" fill="#c6e4ef"/>
<g class="sf" font-size="17">
<text x="2914" y="1310" text-anchor="middle">Methods</text>
<text y="1300" text-anchor="middle"><tspan x="3053">Avg.</tspan><tspan x="3150">Avg.</tspan><tspan x="3530">Dice of Each Class</tspan></text>
<text y="1320" text-anchor="middle"><tspan x="3053">Dice</tspan><tspan x="3150">ASD</tspan><tspan x="3235">Sp</tspan><tspan x="3282">RK</tspan><tspan x="3331">LK</tspan><tspan x="3379">Ga</tspan><tspan x="3426">Es</tspan><tspan x="3475">Li</tspan><tspan x="3524">St</tspan><tspan x="3571">Ao</tspan><tspan x="3620">IVC</tspan><tspan x="3668">PSV</tspan><tspan x="3717">PA</tspan><tspan x="3768">RAG</tspan><tspan x="3822">LAG</tspan></text>
<text transform="translate(2850,1438) rotate(-90)" text-anchor="middle">General</text>
<text transform="translate(2850,1588) rotate(-90)" text-anchor="middle">Imbalance</text>
<g text-anchor="middle">
<text x="2929" y="1357">V-Net (fully)</text>
<text x="2929" y="1391">UA-MT [8]</text><text x="2929" y="1412">URPC [10]</text><text x="2929" y="1433">CPS [3]</text><text x="2929" y="1454">SS-Net [17]</text><text x="2929" y="1475">DST [6]</text><text x="2929" y="1496">DePL [5]</text>
<text x="2929" y="1531">Adsh [71]</text><text x="2929" y="1552">CReST [26]</text><text x="2929" y="1573">SimiS [28]</text><text x="2929" y="1594">Basak <tspan class="it">et al.</tspan> [33]</text><text x="2929" y="1615">CLD [15]</text><text x="2929" y="1636">DHC [25]</text><text x="2929" y="1657" class="b">A&amp;D (ours)</text>
<text y="1357"><tspan x="3053">62.09±1.2</tspan><tspan x="3150">10.28±3.9</tspan><tspan x="3235">84.6</tspan><tspan x="3282">77.2</tspan><tspan x="3331">73.8</tspan><tspan x="3379">73.3</tspan><tspan x="3426">38.2</tspan><tspan x="3475">94.6</tspan><tspan x="3524">68.4</tspan><tspan x="3571">72.1</tspan><tspan x="3620">71.2</tspan><tspan x="3668">58.2</tspan><tspan x="3717">48.5</tspan><tspan x="3768">17.9</tspan><tspan x="3822">29.0</tspan></text>
<text y="1391"><tspan x="3053">20.26±2.2</tspan><tspan x="3150">71.67±7.4</tspan><tspan x="3235">48.2</tspan><tspan x="3282">31.7</tspan><tspan x="3331">22.2</tspan><tspan x="3379">0.0</tspan><tspan x="3426">0.0</tspan><tspan x="3475">81.2</tspan><tspan x="3524">29.1</tspan><tspan x="3571">23.3</tspan><tspan x="3620">27.5</tspan><tspan x="3668">0.0</tspan><tspan x="3717">0.0</tspan><tspan x="3768">0.0</tspan><tspan x="3822">0.0</tspan></text>
<text y="1412"><tspan x="3053">25.68±5.1</tspan><tspan x="3150">72.74±15.5</tspan><tspan x="3235">66.7</tspan><tspan x="3282">38.2</tspan><tspan x="3331">56.8</tspan><tspan x="3379">0.0</tspan><tspan x="3426">0.0</tspan><tspan x="3475">85.3</tspan><tspan x="3524">33.9</tspan><tspan x="3571">33.1</tspan><tspan x="3620">14.8</tspan><tspan x="3668">0.0</tspan><tspan x="3717">5.1</tspan><tspan x="3768">0.0</tspan><tspan x="3822">0.0</tspan></text>
<text y="1433"><tspan x="3053">33.55±3.7</tspan><tspan x="3150">41.21±9.1</tspan><tspan x="3235">62.8</tspan><tspan x="3282">55.2</tspan><tspan x="3331">45.4</tspan><tspan x="3379">35.9</tspan><tspan x="3426">0.0</tspan><tspan x="3475" class="b">91.1</tspan><tspan x="3524">31.3</tspan><tspan x="3571">41.9</tspan><tspan x="3620">49.2</tspan><tspan x="3668">8.8</tspan><tspan x="3717">14.5</tspan><tspan x="3768">0.0</tspan><tspan x="3822">0.0</tspan></text>
<text y="1454"><tspan x="3053">35.08±2.8</tspan><tspan x="3150">50.81±6.5</tspan><tspan x="3235">62.7</tspan><tspan x="3282">67.9</tspan><tspan x="3331">60.9</tspan><tspan x="3379">34.3</tspan><tspan x="3426">0.0</tspan><tspan x="3475">89.9</tspan><tspan x="3524">20.9</tspan><tspan x="3571">61.7</tspan><tspan x="3620">44.8</tspan><tspan x="3668">0.0</tspan><tspan x="3717">8.7</tspan><tspan x="3768">4.2</tspan><tspan x="3822">0.0</tspan></text>
<text y="1475"><tspan x="3053">34.47±1.6</tspan><tspan x="3150">37.69±2.9</tspan><tspan x="3235">57.7</tspan><tspan x="3282">57.2</tspan><tspan x="3331">46.4</tspan><tspan x="3379">43.7</tspan><tspan x="3426">0.0</tspan><tspan x="3475">89.0</tspan><tspan x="3524">33.9</tspan><tspan x="3571">43.3</tspan><tspan x="3620">46.9</tspan><tspan x="3668">9.0</tspan><tspan x="3717">21.0</tspan><tspan x="3768">0.0</tspan><tspan x="3822">0.0</tspan></text>
<text y="1496"><tspan x="3053">36.27±0.9</tspan><tspan x="3150">36.02±0.8</tspan><tspan x="3235">62.8</tspan><tspan x="3282">61.0</tspan><tspan x="3331">48.2</tspan><tspan x="3379">54.8</tspan><tspan x="3426">0.0</tspan><tspan x="3475">90.2</tspan><tspan x="3524">36.0</tspan><tspan x="3571">42.5</tspan><tspan x="3620">48.2</tspan><tspan x="3668">10.7</tspan><tspan x="3717">17.0</tspan><tspan x="3768">0.0</tspan><tspan x="3822">0.0</tspan></text>
<text y="1531"><tspan x="3053">35.29±0.5</tspan><tspan x="3150">39.61±4.6</tspan><tspan x="3235">55.1</tspan><tspan x="3282">59.6</tspan><tspan x="3331">45.8</tspan><tspan x="3379">52.2</tspan><tspan x="3426">0.0</tspan><tspan x="3475">89.4</tspan><tspan x="3524">32.8</tspan><tspan x="3571">47.6</tspan><tspan x="3620">53.0</tspan><tspan x="3668">8.9</tspan><tspan x="3717">14.4</tspan><tspan x="3768">0.0</tspan><tspan x="3822">0.0</tspan></text>
<text y="1552"><tspan x="3053">38.33±3.4</tspan><tspan x="3150">22.85±9.0</tspan><tspan x="3235">62.1</tspan><tspan x="3282">64.7</tspan><tspan x="3331">53.8</tspan><tspan x="3379">43.8</tspan><tspan x="3426">8.1</tspan><tspan x="3475">85.9</tspan><tspan x="3524">27.2</tspan><tspan x="3571">54.4</tspan><tspan x="3620">47.7</tspan><tspan x="3668">14.4</tspan><tspan x="3717">13.0</tspan><tspan x="3768">18.7</tspan><tspan x="3822">4.6</tspan></text>
<text y="1573"><tspan x="3053">40.07±0.6</tspan><tspan x="3150">32.98±0.5</tspan><tspan x="3235">62.3</tspan><tspan x="3282">69.4</tspan><tspan x="3331">50.7</tspan><tspan x="3379">61.4</tspan><tspan x="3426">0.0</tspan><tspan x="3475">87.0</tspan><tspan x="3524">33.0</tspan><tspan x="3571">59.0</tspan><tspan x="3620">57.2</tspan><tspan x="3668">29.2</tspan><tspan x="3717">11.8</tspan><tspan x="3768">0.0</tspan><tspan x="3822">0.0</tspan></text>
<text y="1594"><tspan x="3053">33.24±0.6</tspan><tspan x="3150">43.78±2.5</tspan><tspan x="3235">57.4</tspan><tspan x="3282">53.8</tspan><tspan x="3331">48.5</tspan><tspan x="3379">46.9</tspan><tspan x="3426">0.0</tspan><tspan x="3475">87.8</tspan><tspan x="3524">28.7</tspan><tspan x="3571">42.3</tspan><tspan x="3620">45.4</tspan><tspan x="3668">6.3</tspan><tspan x="3717">15.0</tspan><tspan x="3768">0.0</tspan><tspan x="3822">0.0</tspan></text>
<text y="1615"><tspan x="3053">41.07±1.2</tspan><tspan x="3150">32.15±3.3</tspan><tspan x="3235">62.0</tspan><tspan x="3282">66.0</tspan><tspan x="3331">59.3</tspan><tspan x="3379">61.5</tspan><tspan x="3426">0.0</tspan><tspan x="3475">89.0</tspan><tspan x="3524">31.7</tspan><tspan x="3571">62.8</tspan><tspan x="3620">49.4</tspan><tspan x="3668">28.6</tspan><tspan x="3717">18.5</tspan><tspan x="3768">0.0</tspan><tspan x="3822">5.0</tspan></text>
<text y="1636"><tspan x="3053">48.61±0.9</tspan><tspan x="3150">10.71±2.6</tspan><tspan x="3235">62.8</tspan><tspan x="3282">69.5</tspan><tspan x="3331">59.2</tspan><tspan x="3379" class="b">66.0</tspan><tspan x="3426">13.2</tspan><tspan x="3475">85.2</tspan><tspan x="3524">36.9</tspan><tspan x="3571">67.9</tspan><tspan x="3620">61.5</tspan><tspan x="3668">37.0</tspan><tspan x="3717">30.9</tspan><tspan x="3768">31.4</tspan><tspan x="3822">10.6</tspan></text>
<text y="1657" class="b"><tspan x="3053">60.88±0.7</tspan><tspan x="3150">2.52±0.4</tspan><tspan x="3235">85.2</tspan><tspan x="3282">66.9</tspan><tspan x="3331">67.0</tspan><tspan x="3379" style="font-weight:normal">52.7</tspan><tspan x="3426">62.9</tspan><tspan x="3475" style="font-weight:normal">89.6</tspan><tspan x="3524">52.1</tspan><tspan x="3571">83.0</tspan><tspan x="3620">74.9</tspan><tspan x="3668">41.8</tspan><tspan x="3717">43.4</tspan><tspan x="3768">44.8</tspan><tspan x="3822">27.2</tspan></text>
</g>
</g>

<!-- M&Ms -->
<text x="2829" y="1710" font-size="32" class="b" textLength="364" lengthAdjust="spacingAndGlyphs">M&amp;Ms dataset for SemiDG</text>
<g stroke="#000">
<line x1="2826" y1="1731" x2="3850" y2="1731" stroke-width="2"/><line x1="2826" y1="1784" x2="3850" y2="1784" stroke-width="1.2"/><line x1="2826" y1="1961" x2="3850" y2="1961" stroke-width="2"/>
<line x1="3333" y1="1760" x2="3333" y2="1960" stroke-width="1"/><line x1="3407" y1="1735" x2="3407" y2="1960" stroke-width="1"/><line x1="3411" y1="1735" x2="3411" y2="1960" stroke-width="1"/><line x1="3776" y1="1760" x2="3776" y2="1960" stroke-width="1"/>
</g>
<rect x="2826" y="1936" width="1024" height="21" fill="#c6e4ef"/>
<g class="sf" font-size="17">
<text x="2833" y="1763">Method</text>
<text y="1753" text-anchor="middle"><tspan x="3187">2% Labeled data</tspan><tspan x="3632">5% Labeled data</tspan></text>
<text y="1774" text-anchor="middle"><tspan x="3013">Domain A</tspan><tspan x="3104">Domain B</tspan><tspan x="3194">Domain C</tspan><tspan x="3286">Domain D</tspan><tspan x="3369">Average</tspan><tspan x="3458">Domain A</tspan><tspan x="3549">Domain B</tspan><tspan x="3639">Domain C</tspan><tspan x="3729">Domain D</tspan><tspan x="3814">Average</tspan></text>
<text x="2833" y="1806">nnUNet [69]</text><text x="2833" y="1826">SDNet+Aug [53]</text><text x="2833" y="1847">LDDG [78]</text><text x="2833" y="1868">SAML [79]</text><text x="2833" y="1888">BCP [76]*</text><text x="2833" y="1909">DGNet [52]</text><text x="2833" y="1930">vMFNet [55]</text><text x="2833" y="1951" class="b">A&amp;D (ours)</text>
<g text-anchor="middle">
<text y="1806"><tspan x="3013">52.87</tspan><tspan x="3104">64.63</tspan><tspan x="3194">72.97</tspan><tspan x="3286">73.27</tspan><tspan x="3369">65.94</tspan><tspan x="3458">65.30</tspan><tspan x="3549">79.73</tspan><tspan x="3639">78.06</tspan><tspan x="3729">81.25</tspan><tspan x="3814">76.09</tspan></text>
<text y="1826"><tspan x="3013">54.48</tspan><tspan x="3104">67.81</tspan><tspan x="3194">76.46</tspan><tspan x="3286">74.35</tspan><tspan x="3369">68.28</tspan><tspan x="3458">71.21</tspan><tspan x="3549">77.31</tspan><tspan x="3639">81.40</tspan><tspan x="3729">79.95</tspan><tspan x="3814">77.47</tspan></text>
<text y="1847"><tspan x="3013">59.47</tspan><tspan x="3104">56.16</tspan><tspan x="3194">68.21</tspan><tspan x="3286">68.56</tspan><tspan x="3369">63.16</tspan><tspan x="3458">66.22</tspan><tspan x="3549">69.49</tspan><tspan x="3639">73.40</tspan><tspan x="3729">75.66</tspan><tspan x="3814">71.29</tspan></text>
<text y="1868"><tspan x="3013">56.31</tspan><tspan x="3104">56.32</tspan><tspan x="3194">75.70</tspan><tspan x="3286">69.94</tspan><tspan x="3369">64.57</tspan><tspan x="3458">67.11</tspan><tspan x="3549">76.35</tspan><tspan x="3639">77.43</tspan><tspan x="3729">78.64</tspan><tspan x="3814">74.88</tspan></text>
<text y="1888"><tspan x="3013">71.57</tspan><tspan x="3104">76.20</tspan><tspan x="3194">76.87</tspan><tspan x="3286">77.94</tspan><tspan x="3369">75.65</tspan><tspan x="3458">73.66</tspan><tspan x="3549">79.04</tspan><tspan x="3639">77.01</tspan><tspan x="3729">78.49</tspan><tspan x="3814">77.05</tspan></text>
<text y="1909"><tspan x="3013">66.01</tspan><tspan x="3104">72.72</tspan><tspan x="3194">77.54</tspan><tspan x="3286">75.14</tspan><tspan x="3369">72.85</tspan><tspan x="3458">72.40</tspan><tspan x="3549">80.30</tspan><tspan x="3639">82.51</tspan><tspan x="3729">83.77</tspan><tspan x="3814">79.75</tspan></text>
<text y="1930"><tspan x="3013">73.13</tspan><tspan x="3104">77.01</tspan><tspan x="3194" class="b">81.57</tspan><tspan x="3286">82.02</tspan><tspan x="3369">78.43</tspan><tspan x="3458">77.06</tspan><tspan x="3549">82.29</tspan><tspan x="3639" class="b">84.01</tspan><tspan x="3729" class="b">85.13</tspan><tspan x="3814">82.12</tspan></text>
<text y="1951"><tspan x="3013" class="b">79.62</tspan><tspan x="3104" class="b">82.26</tspan><tspan x="3194">80.03</tspan><tspan x="3286" class="b">83.31</tspan><tspan x="3369" class="b">81.31</tspan><tspan x="3458" class="b">81.71</tspan><tspan x="3549" class="b">85.44</tspan><tspan x="3639">82.18</tspan><tspan x="3729">83.9</tspan><tspan x="3814" class="b">83.31</tspan></text>
</g>
<text x="2835" y="1984" font-size="15">* SOTA method on semi-supervised segmentation.</text>
</g>

<!-- Architecture Analysis -->
<rect x="2833" y="2006" width="18" height="18" fill="none" stroke="#000" stroke-width="4"/>
<text x="2871" y="2025" font-size="30" class="b" textLength="286" lengthAdjust="spacingAndGlyphs">Architecture Analysis</text>
<g stroke="#bbb" stroke-width="1.5" stroke-dasharray="5,4"><line x1="3014" y1="2042" x2="3014" y2="2216"/><line x1="3201" y1="2042" x2="3201" y2="2216"/><line x1="3384" y1="2042" x2="3384" y2="2216"/><line x1="3573" y1="2042" x2="3573" y2="2216"/></g>
<!-- panel a,b -->
<g id="pa">
<rect x="2837" y="2099" width="23" height="21" rx="3" fill="#b7dbe9"/><text x="2842" y="2115" class="it" font-size="12">x<tspan font-size="8" dy="-5">l</tspan></text>
<rect x="2837" y="2168" width="23" height="21" rx="3" fill="#f8d3bb"/><text x="2841" y="2184" class="it" font-size="12">x<tspan font-size="8" dy="-5">u</tspan></text>
<rect x="2966" y="2088" width="39" height="23" rx="3" fill="#f8d3bb"/><text x="2969" y="2104" class="it" font-size="11">y<tspan font-size="7" dy="-5">u;ψ,ξ</tspan></text>
<g stroke="#2a78c2" stroke-width="1.5" fill="none"><polyline points="2860,2108 2882,2070"/><polyline points="2860,2112 2882,2124"/><line x1="2910" y1="2070" x2="2928" y2="2070"/><line x1="2910" y1="2124" x2="2928" y2="2124"/></g>
<g stroke="#ee7d2f" stroke-width="1.5" fill="none"><line x1="2860" y1="2178" x2="2882" y2="2178"/><line x1="2910" y1="2178" x2="2928" y2="2178"/><line x1="2956" y1="2070" x2="2970" y2="2088" stroke-dasharray="3,2"/><line x1="2956" y1="2124" x2="2970" y2="2111" stroke-dasharray="3,2"/></g>
<polyline points="2987,2111 2987,2180 2958,2180" fill="none" stroke="#333" stroke-width="1.5"/>
</g>
<g fill="#dce6f2" stroke="#555" stroke-width="1">
<polygon points="2883,2048 2910,2057 2910,2083 2883,2092"/><polygon points="2929,2057 2956,2048 2956,2092 2929,2083"/>
<polygon points="2883,2103 2910,2112 2910,2136 2883,2145"/><polygon points="2929,2112 2956,2103 2956,2145 2929,2136"/>
<polygon points="2883,2157 2910,2166 2910,2191 2883,2200"/><polygon points="2929,2166 2956,2157 2956,2200 2929,2191"/>
</g>
<use href="#pa" x="187" y="0"/>
<g fill="#1f4570" stroke="#0d223a" stroke-width="1">
<polygon points="3070,2048 3097,2057 3097,2083 3070,2092"/><polygon points="3116,2057 3143,2048 3143,2092 3116,2083"/>
<polygon points="3070,2103 3097,2112 3097,2136 3070,2145"/><polygon points="3116,2112 3143,2103 3143,2145 3116,2136"/>
<polygon points="3070,2157 3097,2166 3097,2191 3070,2200"/><polygon points="3116,2166 3143,2157 3143,2200 3116,2191"/>
</g>
<!-- panel c,d,e -->
<g id="pc">
<rect x="3206" y="2099" width="22" height="21" rx="3" fill="#b7dbe9"/><text x="3210" y="2115" class="it" font-size="12">x<tspan font-size="8" dy="-5">l</tspan></text>
<rect x="3206" y="2128" width="22" height="20" rx="3" fill="#f8d3bb"/><text x="3209" y="2143" class="it" font-size="12">x<tspan font-size="8" dy="-5">u</tspan></text>
<rect x="3337" y="2088" width="37" height="23" rx="3" fill="#f8d3bb"/><text x="3339" y="2104" class="it" font-size="11">y<tspan font-size="7" dy="-5">u;ψ,ξ</tspan></text>
<g stroke="#2a78c2" stroke-width="1.5"><line x1="3228" y1="2110" x2="3251" y2="2122"/><line x1="3279" y1="2122" x2="3297" y2="2070"/><line x1="3279" y1="2124" x2="3297" y2="2124"/></g>
<g stroke="#ee7d2f" stroke-width="1.5"><line x1="3228" y1="2138" x2="3251" y2="2126"/><line x1="3279" y1="2128" x2="3297" y2="2178"/><line x1="3324" y1="2070" x2="3340" y2="2088" stroke-dasharray="3,2"/><line x1="3324" y1="2124" x2="3340" y2="2111" stroke-dasharray="3,2"/></g>
<polyline points="3356,2111 3356,2180 3326,2180" fill="none" stroke="#333" stroke-width="1.5"/>
</g>
<g fill="#dce6f2" stroke="#555" stroke-width="1">
<polygon points="3252,2103 3279,2112 3279,2136 3252,2145"/><polygon points="3297,2057 3324,2048 3324,2090 3297,2081"/><polygon points="3297,2112 3324,2103 3324,2145 3297,2136"/><polygon points="3297,2166 3324,2157 3324,2200 3297,2191"/>
</g>
<use href="#pc" x="190" y="0"/>
<g fill="#1f4570" stroke="#0d223a" stroke-width="1">
<polygon points="3442,2103 3469,2112 3469,2136 3442,2145"/><polygon points="3487,2057 3514,2048 3514,2090 3487,2081"/><polygon points="3487,2112 3514,2103 3514,2145 3487,2136"/><polygon points="3487,2166 3514,2157 3514,2200 3487,2191"/>
</g>
<use href="#pc" x="378" y="0"/>
<polygon points="3630,2103 3657,2112 3657,2136 3630,2145" fill="#1f4570" stroke="#0d223a"/>
<polygon points="3675,2057 3702,2048 3702,2090 3675,2081" fill="#dce6f2" stroke="#555"/>
<polygon points="3675,2112 3702,2103 3702,2145 3675,2136" fill="#1f4570" stroke="#0d223a"/>
<polygon points="3675,2166 3702,2157 3702,2200 3675,2191" fill="#dce6f2" stroke="#555"/>
<g class="sf b" font-size="13" text-anchor="middle"><text x="2919" y="2215">(a)</text><text x="3106" y="2215">(b)</text><text x="3288" y="2215">(c)</text><text x="3469" y="2215">(d)</text><text x="3642" y="2215">(e)</text></g>

<!-- arch table -->
<rect x="3152" y="2243" width="62" height="21" fill="#c6e4ef"/><rect x="3152" y="2272" width="62" height="22" fill="#c6e4ef"/>
<g stroke="#000"><line x1="2826" y1="2238" x2="3214" y2="2238" stroke-width="2.5"/><line x1="2826" y1="2268" x2="3214" y2="2268" stroke-width="1.2"/><line x1="2826" y1="2298" x2="3214" y2="2298" stroke-width="2.5"/><line x1="2892" y1="2244" x2="2892" y2="2296" stroke-width="1"/></g>
<g class="sf" font-size="20" text-anchor="middle">
<text y="2261"><tspan x="2858">Arch.</tspan><tspan x="2924">a</tspan><tspan x="2989">b</tspan><tspan x="3053">c</tspan><tspan x="3118">d</tspan><tspan x="3182">e</tspan></text>
<text y="2290"><tspan x="2858">Dice</tspan><tspan x="2924">76.14</tspan><tspan x="2989">50.53</tspan><tspan x="3053">82.19</tspan><tspan x="3118">45.63</tspan><tspan x="3182">90.14</tspan></text>
</g>
<g font-size="27">
<circle cx="3254" cy="2261" r="3.5" fill="#000"/><circle cx="3505" cy="2250" r="3.5" fill="#000"/><circle cx="3505" cy="2316" r="3.5" fill="#000"/>
<text x="3292" y="2270" textLength="140" lengthAdjust="spacingAndGlyphs">(a)(b) can not</text>
<text x="3292" y="2301" textLength="189" lengthAdjust="spacingAndGlyphs">learn the domain-</text>
<text x="3292" y="2329" textLength="182" lengthAdjust="spacingAndGlyphs">invariant features</text>
<text x="3543" y="2259" textLength="291" lengthAdjust="spacingAndGlyphs">(c) low capacity in learning</text>
<text x="3543" y="2289" textLength="273" lengthAdjust="spacingAndGlyphs">domain-invariant features</text>
<text x="3543" y="2325" textLength="279" lengthAdjust="spacingAndGlyphs">(d) hard to train due to the</text>
<text x="3543" y="2355" textLength="211" lengthAdjust="spacingAndGlyphs">limited labeled data</text>
</g>

<!-- Ablation -->
<rect x="2830" y="2331" width="18" height="18" fill="none" stroke="#000" stroke-width="4"/>
<text x="2868" y="2350" font-size="30" class="b" textLength="382" lengthAdjust="spacingAndGlyphs">Ablation on the components</text>
<rect x="2919" y="2377" width="66" height="24" fill="#c6e4ef"/><rect x="2919" y="2409" width="66" height="68" fill="#c6e4ef"/>
<g stroke="#000"><line x1="2824" y1="2372" x2="3413" y2="2372" stroke-width="2.5"/><line x1="2824" y1="2405" x2="3413" y2="2405" stroke-width="1.5" stroke-dasharray="6,3"/><line x1="2824" y1="2480" x2="3413" y2="2480" stroke-width="2.5" stroke-dasharray="6,3"/><line x1="2919" y1="2377" x2="2919" y2="2477" stroke-width="1"/></g>
<g class="sf" font-size="20" text-anchor="middle">
<text y="2394"><tspan x="2870">Methods</tspan><tspan x="2951">A&amp;D</tspan><tspan x="3041">w/o SVDA</tspan><tspan x="3165">w/o Diffusion</tspan><tspan x="3281">w/o DRS</tspan><tspan x="3372">w/o RS</tspan></text>
<text y="2427"><tspan x="2870">IBSSL</tspan><tspan x="2951">60.9</tspan><tspan x="3041">55.3</tspan><tspan x="3165">56.7</tspan><tspan x="3281">52.0</tspan><tspan x="3372">58.7</tspan></text>
<text y="2449"><tspan x="2870">UDA</tspan><tspan x="2951">90.1</tspan><tspan x="3041">84.6</tspan><tspan x="3165">79.2</tspan><tspan x="3281">85.8</tspan><tspan x="3372">87.0</tspan></text>
<text y="2471"><tspan x="2870">SemiDG</tspan><tspan x="2951">80.6</tspan><tspan x="3041">77.9</tspan><tspan x="3165">74.9</tspan><tspan x="3281">78.2</tspan><tspan x="3372">78.6</tspan></text>
</g>
<g font-size="25">
<circle cx="2831" cy="2506" r="3.5" fill="#000"/><circle cx="2831" cy="2545" r="3.5" fill="#000"/><circle cx="2831" cy="2584" r="3.5" fill="#000"/>
<text x="2868" y="2515" textLength="808" lengthAdjust="spacingAndGlyphs">For UDA, diffusion model better captures the distribution-invariant features.</text>
<text x="2868" y="2554" textLength="649" lengthAdjust="spacingAndGlyphs">For IBSSL, DRS plays more important role than the Diffusion.</text>
<text x="2868" y="2593" textLength="742" lengthAdjust="spacingAndGlyphs">For SemiDG, the results are quite aligned with results in UDA setting.</text>
</g>

<!-- QR -->
<rect x="3729" y="2385" width="212" height="212" fill="url(#qr)"/>
<g><rect x="3729" y="2385" width="68" height="68" fill="#fff"/><rect x="3729" y="2385" width="60" height="60" fill="#000"/><rect x="3737.5" y="2393.5" width="43" height="43" fill="#fff"/><rect x="3746" y="2402" width="26" height="26" fill="#000"/></g>
<g><rect x="3873" y="2385" width="68" height="68" fill="#fff"/><rect x="3881" y="2385" width="60" height="60" fill="#000"/><rect x="3889.5" y="2393.5" width="43" height="43" fill="#fff"/><rect x="3898" y="2402" width="26" height="26" fill="#000"/></g>
<g><rect x="3729" y="2529" width="68" height="68" fill="#fff"/><rect x="3729" y="2537" width="60" height="60" fill="#000"/><rect x="3737.5" y="2545.5" width="43" height="43" fill="#fff"/><rect x="3746" y="2554" width="26" height="26" fill="#000"/></g>
<text x="3727" y="2624" font-size="30" class="b" textLength="214" lengthAdjust="spacingAndGlyphs" style="fill:#7030a0">Code &amp; Weights</text>
</svg>
</body></html>
